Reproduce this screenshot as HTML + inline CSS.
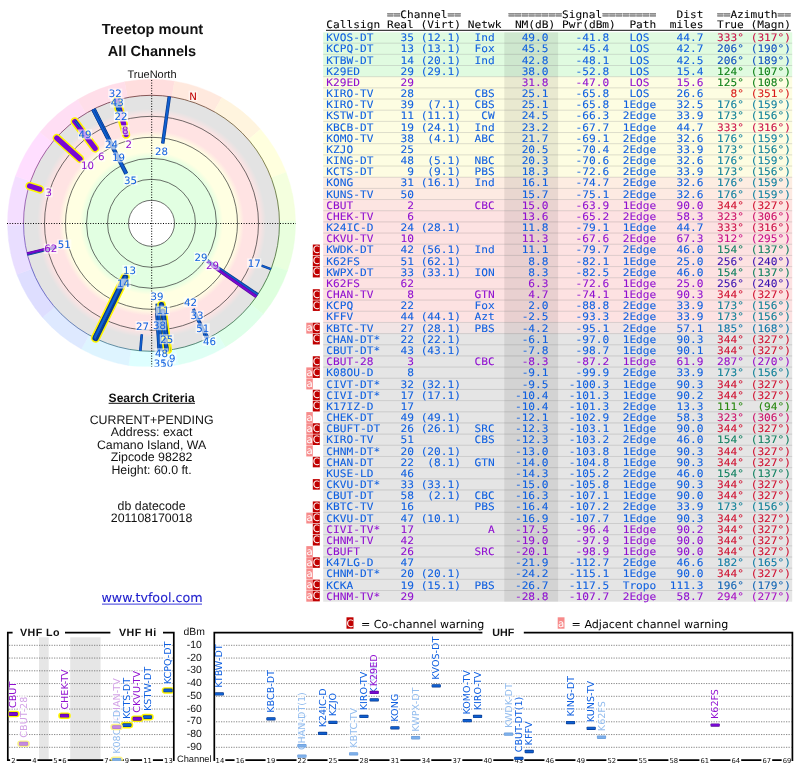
<!DOCTYPE html>
<html lang="en"><head><meta charset="utf-8"><title>TV Fool - Treetop mount - All Channels</title>
<style>
html,body{margin:0;padding:0;background:#fff}
body{width:800px;height:768px;overflow:hidden;position:relative}
svg{position:absolute;left:0;top:0;display:block;will-change:transform}
text{white-space:pre}
.m{font-family:"DejaVu Sans Mono","Liberation Mono",monospace;font-size:11.18px;stroke-width:.07px}
.r{font-family:"DejaVu Sans",Verdana,"Liberation Sans",sans-serif;font-size:9.6px}
.q{fill:#808080;stroke:#808080;stroke-width:.5px}
.e{text-anchor:end}
.s{font-family:"Liberation Sans",Arial,Helvetica,sans-serif;fill:#111}
.b{font-weight:bold}
.d{font-family:"DejaVu Sans",Verdana,"Liberation Sans",sans-serif}
.w{font-family:"DejaVu Sans",Verdana,"Liberation Sans",sans-serif;font-size:10.2px;fill:#fff;text-anchor:middle}
</style></head><body>
<svg width="800" height="768" viewBox="0 0 800 768" text-rendering="geometricPrecision">
<defs>
<radialGradient id="bands" gradientUnits="userSpaceOnUse" cx="151.5" cy="223.3" r="128"><stop offset="0.0000" stop-color="#e2ffe2"/><stop offset="0.5078" stop-color="#e2ffe2"/><stop offset="0.5586" stop-color="#ffffe2"/><stop offset="0.6719" stop-color="#ffffe2"/><stop offset="0.7227" stop-color="#ffe3e3"/><stop offset="0.8359" stop-color="#ffe3e3"/><stop offset="0.8945" stop-color="#e3e3e3"/><stop offset="1.0000" stop-color="#e3e3e3"/></radialGradient>
<clipPath id="rclip"><rect x="0" y="70" width="300" height="296.6"/></clipPath>
<clipPath id="vclip"><rect x="8.6" y="632.55" width="164.4" height="128.3"/></clipPath>
<clipPath id="uclip"><rect x="215.1" y="632.55" width="576.5" height="128.3"/></clipPath>
</defs>
<g id="info" text-anchor="middle">
<text x="152.5" y="34.2" class="s b" font-size="14.6">Treetop mount</text>
<text x="152" y="56.2" class="s b" font-size="14.6">All Channels</text>
<text x="152" y="78" class="s" font-size="11">TrueNorth</text>
<text x="151.6" y="401.6" class="s b" font-size="12.1">Search Criteria</text>
<rect x="108.6" y="402.8" width="86.4" height="1" fill="#111"/>
<text x="151.6" y="423.7" class="s" font-size="12.35">CURRENT+PENDING</text>
<text x="151.6" y="436.3" class="s" font-size="12.35">Address: exact</text>
<text x="151.6" y="448.9" class="s" font-size="12.35">Camano Island, WA</text>
<text x="151.6" y="461.3" class="s" font-size="12.35">Zipcode 98282</text>
<text x="151.6" y="473.7" class="s" font-size="12.35">Height: 60.0 ft.</text>
<text x="151.6" y="509.6" class="s" font-size="12.35">db datecode</text>
<text x="151.6" y="522.3" class="s" font-size="12.35">201108170018</text>
<text x="152" y="602" class="d" font-size="12.7" fill="#1c1ccc" stroke="#1c1ccc" stroke-width="0.1">www.tvfool.com</text>
<rect x="102" y="603.6" width="100" height="1" fill="#3a3add"/>
</g>
<g id="radar" clip-path="url(#rclip)">
<path d="M151.5,223.3L124.52,81.85A144,144 0 0 1 174.52,81.15Z" fill="#ffdede" stroke="#ffdede" stroke-width="0.4"/>
<path d="M151.5,223.3L174.52,81.15A144,144 0 0 1 221.75,97.60Z" fill="#ffe9de" stroke="#ffe9de" stroke-width="0.4"/>
<path d="M151.5,223.3L221.75,97.60A144,144 0 0 1 260.51,129.21Z" fill="#fff4de" stroke="#fff4de" stroke-width="0.4"/>
<path d="M151.5,223.3L260.51,129.21A144,144 0 0 1 286.11,172.16Z" fill="#ffffde" stroke="#ffffde" stroke-width="0.4"/>
<path d="M151.5,223.3L286.11,172.16A144,144 0 0 1 295.49,221.29Z" fill="#f4ffde" stroke="#f4ffde" stroke-width="0.4"/>
<path d="M151.5,223.3L295.49,221.29A144,144 0 0 1 287.49,270.66Z" fill="#e9ffde" stroke="#e9ffde" stroke-width="0.4"/>
<path d="M151.5,223.3L287.49,270.66A144,144 0 0 1 263.09,314.31Z" fill="#deffde" stroke="#deffde" stroke-width="0.4"/>
<path d="M151.5,223.3L263.09,314.31A144,144 0 0 1 225.23,346.99Z" fill="#deffe9" stroke="#deffe9" stroke-width="0.4"/>
<path d="M151.5,223.3L225.23,346.99A144,144 0 0 1 178.48,364.75Z" fill="#defff4" stroke="#defff4" stroke-width="0.4"/>
<path d="M151.5,223.3L178.48,364.75A144,144 0 0 1 128.48,365.45Z" fill="#deffff" stroke="#deffff" stroke-width="0.4"/>
<path d="M151.5,223.3L128.48,365.45A144,144 0 0 1 81.25,349.00Z" fill="#def4ff" stroke="#def4ff" stroke-width="0.4"/>
<path d="M151.5,223.3L81.25,349.00A144,144 0 0 1 42.49,317.39Z" fill="#dee9ff" stroke="#dee9ff" stroke-width="0.4"/>
<path d="M151.5,223.3L42.49,317.39A144,144 0 0 1 16.89,274.44Z" fill="#dedeff" stroke="#dedeff" stroke-width="0.4"/>
<path d="M151.5,223.3L16.89,274.44A144,144 0 0 1 7.51,225.31Z" fill="#e9deff" stroke="#e9deff" stroke-width="0.4"/>
<path d="M151.5,223.3L7.51,225.31A144,144 0 0 1 15.51,175.94Z" fill="#f4deff" stroke="#f4deff" stroke-width="0.4"/>
<path d="M151.5,223.3L15.51,175.94A144,144 0 0 1 39.91,132.29Z" fill="#ffdeff" stroke="#ffdeff" stroke-width="0.4"/>
<path d="M151.5,223.3L39.91,132.29A144,144 0 0 1 77.77,99.61Z" fill="#ffdef4" stroke="#ffdef4" stroke-width="0.4"/>
<path d="M151.5,223.3L77.77,99.61A144,144 0 0 1 124.52,81.85Z" fill="#ffdee9" stroke="#ffdee9" stroke-width="0.4"/>
<circle cx="151.5" cy="223.3" r="128" fill="url(#bands)"/>
<circle cx="151.5" cy="223.3" r="23" fill="#fff"/>
<circle cx="151.5" cy="223.3" r="23" fill="none" stroke="#303030" stroke-width="0.7"/>
<circle cx="151.5" cy="223.3" r="44" fill="none" stroke="#303030" stroke-width="0.7"/>
<circle cx="151.5" cy="223.3" r="65" fill="none" stroke="#303030" stroke-width="0.7"/>
<circle cx="151.5" cy="223.3" r="86" fill="none" stroke="#303030" stroke-width="0.7"/>
<circle cx="151.5" cy="223.3" r="107" fill="none" stroke="#303030" stroke-width="0.7"/>
<path d="M129.27,97.24A128,128 0 0 1 173.73,97.24" fill="none" stroke="#612727" stroke-width="0.75"/>
<path d="M173.73,97.24A128,128 0 0 1 215.50,112.45" fill="none" stroke="#613a27" stroke-width="0.75"/>
<path d="M215.50,112.45A128,128 0 0 1 249.55,141.02" fill="none" stroke="#614e27" stroke-width="0.75"/>
<path d="M249.55,141.02A128,128 0 0 1 271.78,179.52" fill="none" stroke="#616127" stroke-width="0.75"/>
<path d="M271.78,179.52A128,128 0 0 1 279.50,223.30" fill="none" stroke="#4e6127" stroke-width="0.75"/>
<path d="M279.50,223.30A128,128 0 0 1 271.78,267.08" fill="none" stroke="#3a6127" stroke-width="0.75"/>
<path d="M271.78,267.08A128,128 0 0 1 249.55,305.58" fill="none" stroke="#276127" stroke-width="0.75"/>
<path d="M249.55,305.58A128,128 0 0 1 215.50,334.15" fill="none" stroke="#27613a" stroke-width="0.75"/>
<path d="M215.50,334.15A128,128 0 0 1 173.73,349.36" fill="none" stroke="#27614e" stroke-width="0.75"/>
<path d="M173.73,349.36A128,128 0 0 1 129.27,349.36" fill="none" stroke="#2c6e6e" stroke-width="0.75"/>
<path d="M129.27,349.36A128,128 0 0 1 87.50,334.15" fill="none" stroke="#366c87" stroke-width="0.75"/>
<path d="M87.50,334.15A128,128 0 0 1 53.45,305.58" fill="none" stroke="#4060a1" stroke-width="0.75"/>
<path d="M53.45,305.58A128,128 0 0 1 31.22,267.08" fill="none" stroke="#4a4aba" stroke-width="0.75"/>
<path d="M31.22,267.08A128,128 0 0 1 23.50,223.30" fill="none" stroke="#704aba" stroke-width="0.75"/>
<path d="M23.50,223.30A128,128 0 0 1 31.22,179.52" fill="none" stroke="#8140a1" stroke-width="0.75"/>
<path d="M31.22,179.52A128,128 0 0 1 53.45,141.02" fill="none" stroke="#873687" stroke-width="0.75"/>
<path d="M53.45,141.02A128,128 0 0 1 87.50,112.45" fill="none" stroke="#6e2c58" stroke-width="0.75"/>
<path d="M87.50,112.45A128,128 0 0 1 129.27,97.24" fill="none" stroke="#61273a" stroke-width="0.75"/>
<path d="M7,223.5H296M151.7,80V367" stroke="#000" stroke-width="1" stroke-dasharray="1 1.6" fill="none"/>
<path d="M126.28,173.80L93.39,109.25" stroke="#0b3a8c" stroke-width="4.22"/>
<path d="M126.28,173.80L93.39,109.25" stroke="#0f5fd0" stroke-width="2.53"/>
<path d="M125.19,277.25L95.52,338.08" stroke="#fff600" stroke-width="9.32" stroke-linecap="round"/>
<path d="M125.19,277.25L95.52,338.08" stroke="#0b3a8c" stroke-width="6.12" stroke-linecap="round"/>
<path d="M125.19,277.25L95.52,338.08" stroke="#0f5fd0" stroke-width="2.55" stroke-linecap="round"/>
<path d="M123.95,278.91L94.69,338.00" stroke="#0b3a8c" stroke-width="4.03"/>
<path d="M123.95,278.91L94.69,338.00" stroke="#0f5fd0" stroke-width="2.42"/>
<path d="M207.13,260.82L257.62,294.88" stroke="#0b3a8c" stroke-width="3.89"/>
<path d="M207.13,260.82L257.62,294.88" stroke="#0f5fd0" stroke-width="2.33"/>
<path d="M211.80,265.52L256.35,296.72" stroke="#5a0d96" stroke-width="3.30"/>
<path d="M211.80,265.52L256.35,296.72" stroke="#7808d4" stroke-width="2.05"/>
<path d="M162.72,143.44L169.31,96.55" stroke="#0b3a8c" stroke-width="3.50"/>
<path d="M162.72,143.44L169.31,96.55" stroke="#0f5fd0" stroke-width="2.10"/>
<path d="M157.13,303.75L160.43,350.99" stroke="#0b3a8c" stroke-width="3.50"/>
<path d="M157.13,303.75L160.43,350.99" stroke="#0f5fd0" stroke-width="2.10"/>
<path d="M161.50,304.76L167.06,350.05" stroke="#fff600" stroke-width="8.69" stroke-linecap="round"/>
<path d="M161.50,304.76L167.06,350.05" stroke="#0b3a8c" stroke-width="5.48" stroke-linecap="round"/>
<path d="M161.50,304.76L167.06,350.05" stroke="#0f5fd0" stroke-width="2.16" stroke-linecap="round"/>
<path d="M114.43,149.44L94.09,108.90" stroke="#0b3a8c" stroke-width="3.45"/>
<path d="M114.43,149.44L94.09,108.90" stroke="#0f5fd0" stroke-width="2.07"/>
<path d="M156.86,307.34L159.65,351.04" stroke="#0b3a8c" stroke-width="3.40"/>
<path d="M156.86,307.34L159.65,351.04" stroke="#0f5fd0" stroke-width="2.04"/>
<path d="M161.40,308.20L166.32,350.44" stroke="#0b3a8c" stroke-width="3.37"/>
<path d="M161.40,308.20L166.32,350.44" stroke="#0f5fd0" stroke-width="2.02"/>
<path d="M158.00,308.74L161.21,350.93" stroke="#0b3a8c" stroke-width="3.36"/>
<path d="M158.00,308.74L161.21,350.93" stroke="#0f5fd0" stroke-width="2.02"/>
<path d="M162.83,311.16L167.84,349.95" stroke="#fff600" stroke-width="8.50" stroke-linecap="round"/>
<path d="M162.83,311.16L167.84,349.95" stroke="#0b3a8c" stroke-width="5.30" stroke-linecap="round"/>
<path d="M162.83,311.16L167.84,349.95" stroke="#0f5fd0" stroke-width="2.05" stroke-linecap="round"/>
<path d="M156.84,313.24L159.09,351.07" stroke="#0b3a8c" stroke-width="3.23"/>
<path d="M156.84,313.24L159.09,351.07" stroke="#0f5fd0" stroke-width="1.94"/>
<path d="M158.76,313.52L161.77,350.89" stroke="#0b3a8c" stroke-width="3.22"/>
<path d="M158.76,313.52L161.77,350.89" stroke="#0f5fd0" stroke-width="1.93"/>
<path d="M126.07,134.62L116.36,100.74" stroke="#fff600" stroke-width="8.4" stroke-linecap="round"/>
<path d="M126.07,134.62L116.36,100.74" stroke="#7808d4" stroke-width="5.2" stroke-linecap="round"/>
<path d="M95.10,148.45L74.77,121.47" stroke="#fff600" stroke-width="8.4" stroke-linecap="round"/>
<path d="M95.10,148.45L74.77,121.47" stroke="#7808d4" stroke-width="5.2" stroke-linecap="round"/>
<path d="M108.03,139.27L92.69,109.61" stroke="#0b3a8c" stroke-width="3.10"/>
<path d="M108.03,139.27L92.69,109.61" stroke="#0f5fd0" stroke-width="1.86"/>
<path d="M80.06,158.97L56.75,137.99" stroke="#fff600" stroke-width="8.4" stroke-linecap="round"/>
<path d="M80.06,158.97L56.75,137.99" stroke="#7808d4" stroke-width="5.2" stroke-linecap="round"/>
<path d="M193.30,309.00L207.61,338.35" stroke="#0b3a8c" stroke-width="3.08"/>
<path d="M193.30,309.00L207.61,338.35" stroke="#0f5fd0" stroke-width="1.85"/>
<path d="M56.64,246.95L27.30,254.27" stroke="#0b3a8c" stroke-width="3.01"/>
<path d="M56.64,246.95L27.30,254.27" stroke="#0f5fd0" stroke-width="1.81"/>
<path d="M194.04,311.90L206.91,338.69" stroke="#0b3a8c" stroke-width="3.00"/>
<path d="M194.04,311.90L206.91,338.69" stroke="#0f5fd0" stroke-width="1.80"/>
<path d="M53.95,246.99L27.12,253.51" stroke="#5a0d96" stroke-width="2.54"/>
<path d="M53.95,246.99L27.12,253.51" stroke="#7808d4" stroke-width="1.57"/>
<path d="M123.70,124.06L117.11,100.53" stroke="#fff600" stroke-width="8.4" stroke-linecap="round"/>
<path d="M123.70,124.06L117.11,100.53" stroke="#7808d4" stroke-width="5.2" stroke-linecap="round"/>
<path d="M163.19,327.55L165.77,350.50" stroke="#0b3a8c" stroke-width="2.81"/>
<path d="M163.19,327.55L165.77,350.50" stroke="#0f5fd0" stroke-width="1.69"/>
<path d="M166.00,331.96L168.43,350.18" stroke="#0b3a8c" stroke-width="2.67"/>
<path d="M166.00,331.96L168.43,350.18" stroke="#0f5fd0" stroke-width="1.60"/>
<path d="M141.79,334.29L140.34,350.81" stroke="#0b3a8c" stroke-width="2.62"/>
<path d="M141.79,334.29L140.34,350.81" stroke="#0f5fd0" stroke-width="1.57"/>
<path d="M119.58,114.48L115.47,100.48" stroke="#0b3a8c" stroke-width="2.57"/>
<path d="M119.58,114.48L115.47,100.48" stroke="#0f5fd0" stroke-width="1.54"/>
<path d="M120.91,112.25L117.51,99.90" stroke="#0b3a8c" stroke-width="2.52"/>
<path d="M120.91,112.25L117.51,99.90" stroke="#0f5fd0" stroke-width="1.51"/>
<path d="M39.88,189.18L29.57,186.02" stroke="#fff600" stroke-width="8.4" stroke-linecap="round"/>
<path d="M39.88,189.18L29.57,186.02" stroke="#7808d4" stroke-width="5.2" stroke-linecap="round"/>
<path d="M165.40,339.83L166.62,350.10" stroke="#fff600" stroke-width="7.68" stroke-linecap="round"/>
<path d="M165.40,339.83L166.62,350.10" stroke="#0b3a8c" stroke-width="4.48" stroke-linecap="round"/>
<path d="M165.40,339.83L166.62,350.10" stroke="#0f5fd0" stroke-width="1.54" stroke-linecap="round"/>
<path d="M118.08,111.20L114.93,100.63" stroke="#0b3a8c" stroke-width="2.46"/>
<path d="M118.08,111.20L114.93,100.63" stroke="#0f5fd0" stroke-width="1.48"/>
<path d="M119.39,109.84L116.65,100.14" stroke="#0b3a8c" stroke-width="2.44"/>
<path d="M119.39,109.84L116.65,100.14" stroke="#0f5fd0" stroke-width="1.46"/>
<path d="M261.59,265.56L271.00,269.17" stroke="#0b3a8c" stroke-width="2.44"/>
<path d="M261.59,265.56L271.00,269.17" stroke="#0f5fd0" stroke-width="1.46"/>
<path d="M80.05,127.26L75.09,120.61" stroke="#0b3a8c" stroke-width="2.39"/>
<path d="M80.05,127.26L75.09,120.61" stroke="#0f5fd0" stroke-width="1.43"/>
<path d="M118.04,108.15L115.79,100.38" stroke="#0b3a8c" stroke-width="2.38"/>
<path d="M118.04,108.15L115.79,100.38" stroke="#0f5fd0" stroke-width="1.43"/>
<path d="M204.72,330.76L208.31,338.00" stroke="#0b3a8c" stroke-width="2.38"/>
<path d="M204.72,330.76L208.31,338.00" stroke="#0f5fd0" stroke-width="1.43"/>
<path d="M119.16,107.07L117.19,99.99" stroke="#0b3a8c" stroke-width="2.36"/>
<path d="M119.16,107.07L117.19,99.99" stroke="#0f5fd0" stroke-width="1.42"/>
<path d="M117.04,106.58L115.25,100.54" stroke="#0b3a8c" stroke-width="2.33"/>
<path d="M117.04,106.58L115.25,100.54" stroke="#0f5fd0" stroke-width="1.40"/>
<path d="M203.84,333.52L206.40,338.93" stroke="#0b3a8c" stroke-width="2.32"/>
<path d="M203.84,333.52L206.40,338.93" stroke="#0f5fd0" stroke-width="1.39"/>
<path d="M117.87,105.25L116.43,100.20" stroke="#0b3a8c" stroke-width="2.30"/>
<path d="M117.87,105.25L116.43,100.20" stroke="#0f5fd0" stroke-width="1.38"/>
<path d="M117.08,104.05L116.00,100.32" stroke="#0b3a8c" stroke-width="2.30"/>
<path d="M117.08,104.05L116.00,100.32" stroke="#0f5fd0" stroke-width="1.38"/>
<path d="M167.07,346.54L167.54,350.29" stroke="#0b3a8c" stroke-width="2.30"/>
<path d="M167.07,346.54L167.54,350.29" stroke="#0f5fd0" stroke-width="1.38"/>
<path d="M117.74,103.21L116.86,100.08" stroke="#0b3a8c" stroke-width="2.30"/>
<path d="M117.74,103.21L116.86,100.08" stroke="#0f5fd0" stroke-width="1.38"/>
<path d="M116.31,102.96L115.57,100.44" stroke="#5a0d96" stroke-width="1.90"/>
<path d="M116.31,102.96L115.57,100.44" stroke="#7808d4" stroke-width="1.18"/>
<path d="M117.57,100.97L117.29,99.96" stroke="#5a0d96" stroke-width="1.90"/>
<path d="M117.57,100.97L117.29,99.96" stroke="#7808d4" stroke-width="1.18"/>
<rect x="108.15" y="88.60" width="14.10" height="10" fill="#fff" fill-opacity="0.62"/>
<text x="115.20" y="97.30" class="d" font-size="10.2" fill="#1060e0" text-anchor="middle">32</text>
<rect x="110.25" y="97.60" width="14.10" height="10" fill="#fff" fill-opacity="0.62"/>
<text x="117.30" y="106.30" class="d" font-size="10.2" fill="#1060e0" text-anchor="middle">43</text>
<rect x="113.85" y="111.50" width="14.10" height="10" fill="#fff" fill-opacity="0.84"/>
<text x="120.90" y="120.20" class="d" font-size="10.2" fill="#1060e0" text-anchor="middle">22</text>
<rect x="121.30" y="125.10" width="7.80" height="10" fill="#fff" fill-opacity="0.62"/>
<text x="125.20" y="133.80" class="d" font-size="10.2" fill="#9010d0" text-anchor="middle">8</text>
<rect x="124.90" y="138.80" width="7.80" height="10" fill="#fff" fill-opacity="0.62"/>
<text x="128.80" y="147.50" class="d" font-size="10.2" fill="#9010d0" text-anchor="middle">2</text>
<rect x="78.05" y="129.40" width="14.10" height="10" fill="#fff" fill-opacity="0.62"/>
<text x="85.10" y="138.10" class="d" font-size="10.2" fill="#1060e0" text-anchor="middle">49</text>
<rect x="97.40" y="151.60" width="7.80" height="10" fill="#fff" fill-opacity="0.62"/>
<text x="101.30" y="160.30" class="d" font-size="10.2" fill="#9010d0" text-anchor="middle">6</text>
<rect x="80.45" y="160.20" width="14.10" height="10" fill="#fff" fill-opacity="0.62"/>
<text x="87.50" y="168.90" class="d" font-size="10.2" fill="#9010d0" text-anchor="middle">10</text>
<rect x="104.55" y="139.50" width="14.10" height="10" fill="#fff" fill-opacity="0.62"/>
<text x="111.60" y="148.20" class="d" font-size="10.2" fill="#1060e0" text-anchor="middle">24</text>
<rect x="111.45" y="152.40" width="14.10" height="10" fill="#fff" fill-opacity="0.62"/>
<text x="118.50" y="161.10" class="d" font-size="10.2" fill="#1060e0" text-anchor="middle">19</text>
<rect x="123.45" y="175.30" width="14.10" height="10" fill="#fff" fill-opacity="0.62"/>
<text x="130.50" y="184.00" class="d" font-size="10.2" fill="#1060e0" text-anchor="middle">35</text>
<rect x="44.80" y="187.30" width="7.80" height="10" fill="#fff" fill-opacity="0.62"/>
<text x="48.70" y="196.00" class="d" font-size="10.2" fill="#9010d0" text-anchor="middle">3</text>
<rect x="43.75" y="243.70" width="14.10" height="10" fill="#fff" fill-opacity="0.62"/>
<text x="50.80" y="252.40" class="d" font-size="10.2" fill="#9010d0" text-anchor="middle">62</text>
<rect x="57.25" y="239.40" width="14.10" height="10" fill="#fff" fill-opacity="0.62"/>
<text x="64.30" y="248.10" class="d" font-size="10.2" fill="#1060e0" text-anchor="middle">51</text>
<rect x="154.45" y="146.30" width="14.10" height="10" fill="#fff" fill-opacity="0.62"/>
<text x="161.50" y="155.00" class="d" font-size="10.2" fill="#1060e0" text-anchor="middle">28</text>
<rect x="193.95" y="252.10" width="14.10" height="10" fill="#fff" fill-opacity="0.62"/>
<text x="201.00" y="260.80" class="d" font-size="10.2" fill="#1060e0" text-anchor="middle">29</text>
<rect x="205.45" y="260.40" width="14.10" height="10" fill="#fff" fill-opacity="0.62"/>
<text x="212.50" y="269.10" class="d" font-size="10.2" fill="#9010d0" text-anchor="middle">29</text>
<rect x="247.15" y="258.30" width="14.10" height="10" fill="#fff" fill-opacity="0.62"/>
<text x="254.20" y="267.00" class="d" font-size="10.2" fill="#1060e0" text-anchor="middle">17</text>
<rect x="183.55" y="297.30" width="14.10" height="10" fill="#fff" fill-opacity="0.62"/>
<text x="190.60" y="306.00" class="d" font-size="10.2" fill="#1060e0" text-anchor="middle">42</text>
<rect x="189.85" y="310.40" width="14.10" height="10" fill="#fff" fill-opacity="0.62"/>
<text x="196.90" y="319.10" class="d" font-size="10.2" fill="#1060e0" text-anchor="middle">33</text>
<rect x="195.65" y="323.30" width="14.10" height="10" fill="#fff" fill-opacity="0.62"/>
<text x="202.70" y="332.00" class="d" font-size="10.2" fill="#1060e0" text-anchor="middle">51</text>
<rect x="202.35" y="335.80" width="14.10" height="10" fill="#fff" fill-opacity="0.62"/>
<text x="209.40" y="344.50" class="d" font-size="10.2" fill="#1060e0" text-anchor="middle">46</text>
<rect x="149.85" y="291.50" width="14.10" height="10" fill="#fff" fill-opacity="0.62"/>
<text x="156.90" y="300.20" class="d" font-size="10.2" fill="#1060e0" text-anchor="middle">39</text>
<rect x="155.85" y="305.60" width="14.10" height="10" fill="#fff" fill-opacity="0.62"/>
<text x="162.90" y="314.30" class="d" font-size="10.2" fill="#1060e0" text-anchor="middle">11</text>
<rect x="152.35" y="320.20" width="14.10" height="10" fill="#fff" fill-opacity="0.62"/>
<text x="159.40" y="328.90" class="d" font-size="10.2" fill="#1060e0" text-anchor="middle">38</text>
<rect x="159.65" y="334.20" width="14.10" height="10" fill="#fff" fill-opacity="0.62"/>
<text x="166.70" y="342.90" class="d" font-size="10.2" fill="#1060e0" text-anchor="middle">25</text>
<rect x="153.25" y="358.20" width="14.10" height="10" fill="#fff" fill-opacity="0.62"/>
<text x="160.30" y="366.90" class="d" font-size="10.2" fill="#1060e0" text-anchor="middle">31</text>
<rect x="159.75" y="358.40" width="14.10" height="10" fill="#fff" fill-opacity="0.62"/>
<text x="166.80" y="367.10" class="d" font-size="10.2" fill="#1060e0" text-anchor="middle">50</text>
<rect x="168.40" y="353.60" width="7.80" height="10" fill="#fff" fill-opacity="0.62"/>
<text x="172.30" y="362.30" class="d" font-size="10.2" fill="#1060e0" text-anchor="middle">9</text>
<rect x="154.45" y="348.30" width="14.10" height="10" fill="#fff" fill-opacity="0.62"/>
<text x="161.50" y="357.00" class="d" font-size="10.2" fill="#1060e0" text-anchor="middle">48</text>
<rect x="122.35" y="265.00" width="14.10" height="10" fill="#fff" fill-opacity="0.62"/>
<text x="129.40" y="273.70" class="d" font-size="10.2" fill="#1060e0" text-anchor="middle">13</text>
<rect x="116.55" y="278.60" width="14.10" height="10" fill="#fff" fill-opacity="0.62"/>
<text x="123.60" y="287.30" class="d" font-size="10.2" fill="#1060e0" text-anchor="middle">14</text>
<rect x="135.55" y="321.00" width="14.10" height="10" fill="#fff" fill-opacity="0.62"/>
<text x="142.60" y="329.70" class="d" font-size="10.2" fill="#1060e0" text-anchor="middle">27</text>
<rect x="188.6" y="90.6" width="9" height="10.4" fill="#fff" fill-opacity="0.45"/>
<text x="193.1" y="99.6" class="d" font-size="10.2" fill="#c00000" text-anchor="middle">N</text>
</g>
<g id="table-bg">
<rect x="326" y="29.8" width="464.6" height="1" fill="#111"/>
<rect x="323.2" y="32.30" width="469.0" height="10.92" fill="#e0fbe0"/>
<rect x="323.2" y="43.17" width="469.0" height="11.22" fill="#e0fbe0"/>
<rect x="323.2" y="54.34" width="469.0" height="11.22" fill="#e0fbe0"/>
<rect x="323.2" y="65.51" width="469.0" height="11.22" fill="#e0fbe0"/>
<rect x="323.2" y="76.68" width="469.0" height="11.22" fill="#fdfde2"/>
<rect x="323.2" y="87.85" width="469.0" height="11.22" fill="#fdfde2"/>
<rect x="323.2" y="99.02" width="469.0" height="11.22" fill="#fdfde2"/>
<rect x="323.2" y="110.19" width="469.0" height="11.22" fill="#fdfde2"/>
<rect x="323.2" y="121.36" width="469.0" height="11.22" fill="#fdfde2"/>
<rect x="323.2" y="132.53" width="469.0" height="11.22" fill="#fdfde2"/>
<rect x="323.2" y="143.70" width="469.0" height="11.22" fill="#fdfde2"/>
<rect x="323.2" y="154.87" width="469.0" height="11.22" fill="#fdfde2"/>
<rect x="323.2" y="166.04" width="469.0" height="11.22" fill="#fdfce2"/>
<rect x="323.2" y="177.21" width="469.0" height="11.22" fill="#fdede2"/>
<rect x="323.2" y="188.38" width="469.0" height="11.22" fill="#fdeae2"/>
<rect x="323.2" y="199.55" width="469.0" height="11.22" fill="#fde5e2"/>
<rect x="323.2" y="210.72" width="469.0" height="11.22" fill="#fde2e2"/>
<rect x="323.2" y="221.89" width="469.0" height="11.22" fill="#fde2e2"/>
<rect x="323.2" y="233.06" width="469.0" height="11.22" fill="#fde2e2"/>
<rect x="323.2" y="244.23" width="469.0" height="11.22" fill="#fde2e2"/>
<rect x="323.2" y="255.40" width="469.0" height="11.22" fill="#fde2e2"/>
<rect x="323.2" y="266.57" width="469.0" height="11.22" fill="#fde2e2"/>
<rect x="323.2" y="277.74" width="469.0" height="11.22" fill="#fde2e2"/>
<rect x="323.2" y="288.91" width="469.0" height="11.22" fill="#fde2e2"/>
<rect x="323.2" y="300.08" width="469.0" height="11.22" fill="#fde2e2"/>
<rect x="323.2" y="311.25" width="469.0" height="11.22" fill="#fde2e2"/>
<rect x="323.2" y="322.42" width="469.0" height="11.22" fill="#f1e4e4"/>
<rect x="323.2" y="333.59" width="469.0" height="11.22" fill="#e5e5e5"/>
<rect x="323.2" y="344.76" width="469.0" height="11.22" fill="#e5e5e5"/>
<rect x="323.2" y="355.93" width="469.0" height="11.22" fill="#e5e5e5"/>
<rect x="323.2" y="367.10" width="469.0" height="11.22" fill="#e5e5e5"/>
<rect x="323.2" y="378.27" width="469.0" height="11.22" fill="#e5e5e5"/>
<rect x="323.2" y="389.44" width="469.0" height="11.22" fill="#e5e5e5"/>
<rect x="323.2" y="400.61" width="469.0" height="11.22" fill="#e5e5e5"/>
<rect x="323.2" y="411.78" width="469.0" height="11.22" fill="#e5e5e5"/>
<rect x="323.2" y="422.95" width="469.0" height="11.22" fill="#e5e5e5"/>
<rect x="323.2" y="434.12" width="469.0" height="11.22" fill="#e5e5e5"/>
<rect x="323.2" y="445.29" width="469.0" height="11.22" fill="#e5e5e5"/>
<rect x="323.2" y="456.46" width="469.0" height="11.22" fill="#e5e5e5"/>
<rect x="323.2" y="467.63" width="469.0" height="11.22" fill="#e5e5e5"/>
<rect x="323.2" y="478.80" width="469.0" height="11.22" fill="#e5e5e5"/>
<rect x="323.2" y="489.97" width="469.0" height="11.22" fill="#e5e5e5"/>
<rect x="323.2" y="501.14" width="469.0" height="11.22" fill="#e5e5e5"/>
<rect x="323.2" y="512.31" width="469.0" height="11.22" fill="#e5e5e5"/>
<rect x="323.2" y="523.48" width="469.0" height="11.22" fill="#e5e5e5"/>
<rect x="323.2" y="534.65" width="469.0" height="11.22" fill="#e5e5e5"/>
<rect x="323.2" y="545.82" width="469.0" height="11.22" fill="#e5e5e5"/>
<rect x="323.2" y="556.99" width="469.0" height="11.22" fill="#e5e5e5"/>
<rect x="323.2" y="568.16" width="469.0" height="11.22" fill="#e5e5e5"/>
<rect x="323.2" y="579.33" width="469.0" height="11.22" fill="#e5e5e5"/>
<rect x="323.2" y="590.50" width="469.0" height="11.22" fill="#e5e5e5"/>
<rect x="504.3" y="32.3" width="53.8" height="569.37" fill="#000" fill-opacity="0.08"/>
<rect x="323.2" y="42.67" width="469.0" height="1" fill="#000" fill-opacity="0.13"/>
<rect x="323.2" y="53.84" width="469.0" height="1" fill="#000" fill-opacity="0.13"/>
<rect x="323.2" y="65.01" width="469.0" height="1" fill="#000" fill-opacity="0.13"/>
<rect x="323.2" y="76.18" width="469.0" height="1" fill="#000" fill-opacity="0.13"/>
<rect x="323.2" y="87.35" width="469.0" height="1" fill="#000" fill-opacity="0.13"/>
<rect x="323.2" y="98.52" width="469.0" height="1" fill="#000" fill-opacity="0.13"/>
<rect x="323.2" y="109.69" width="469.0" height="1" fill="#000" fill-opacity="0.13"/>
<rect x="323.2" y="120.86" width="469.0" height="1" fill="#000" fill-opacity="0.13"/>
<rect x="323.2" y="132.03" width="469.0" height="1" fill="#000" fill-opacity="0.13"/>
<rect x="323.2" y="143.20" width="469.0" height="1" fill="#000" fill-opacity="0.13"/>
<rect x="323.2" y="154.37" width="469.0" height="1" fill="#000" fill-opacity="0.13"/>
<rect x="323.2" y="165.54" width="469.0" height="1" fill="#000" fill-opacity="0.13"/>
<rect x="323.2" y="176.71" width="469.0" height="1" fill="#000" fill-opacity="0.13"/>
<rect x="323.2" y="187.88" width="469.0" height="1" fill="#000" fill-opacity="0.13"/>
<rect x="323.2" y="199.05" width="469.0" height="1" fill="#000" fill-opacity="0.13"/>
<rect x="323.2" y="210.22" width="469.0" height="1" fill="#000" fill-opacity="0.13"/>
<rect x="323.2" y="221.39" width="469.0" height="1" fill="#000" fill-opacity="0.13"/>
<rect x="323.2" y="232.56" width="469.0" height="1" fill="#000" fill-opacity="0.13"/>
<rect x="323.2" y="243.73" width="469.0" height="1" fill="#000" fill-opacity="0.13"/>
<rect x="323.2" y="254.90" width="469.0" height="1" fill="#000" fill-opacity="0.13"/>
<rect x="323.2" y="266.07" width="469.0" height="1" fill="#000" fill-opacity="0.13"/>
<rect x="323.2" y="277.24" width="469.0" height="1" fill="#000" fill-opacity="0.13"/>
<rect x="323.2" y="288.41" width="469.0" height="1" fill="#000" fill-opacity="0.13"/>
<rect x="323.2" y="299.58" width="469.0" height="1" fill="#000" fill-opacity="0.13"/>
<rect x="323.2" y="310.75" width="469.0" height="1" fill="#000" fill-opacity="0.13"/>
<rect x="323.2" y="321.92" width="469.0" height="1" fill="#000" fill-opacity="0.13"/>
<rect x="323.2" y="333.09" width="469.0" height="1" fill="#000" fill-opacity="0.13"/>
<rect x="323.2" y="344.26" width="469.0" height="1" fill="#000" fill-opacity="0.13"/>
<rect x="323.2" y="355.43" width="469.0" height="1" fill="#000" fill-opacity="0.13"/>
<rect x="323.2" y="366.60" width="469.0" height="1" fill="#000" fill-opacity="0.13"/>
<rect x="323.2" y="377.77" width="469.0" height="1" fill="#000" fill-opacity="0.13"/>
<rect x="323.2" y="388.94" width="469.0" height="1" fill="#000" fill-opacity="0.13"/>
<rect x="323.2" y="400.11" width="469.0" height="1" fill="#000" fill-opacity="0.13"/>
<rect x="323.2" y="411.28" width="469.0" height="1" fill="#000" fill-opacity="0.13"/>
<rect x="323.2" y="422.45" width="469.0" height="1" fill="#000" fill-opacity="0.13"/>
<rect x="323.2" y="433.62" width="469.0" height="1" fill="#000" fill-opacity="0.13"/>
<rect x="323.2" y="444.79" width="469.0" height="1" fill="#000" fill-opacity="0.13"/>
<rect x="323.2" y="455.96" width="469.0" height="1" fill="#000" fill-opacity="0.13"/>
<rect x="323.2" y="467.13" width="469.0" height="1" fill="#000" fill-opacity="0.13"/>
<rect x="323.2" y="478.30" width="469.0" height="1" fill="#000" fill-opacity="0.13"/>
<rect x="323.2" y="489.47" width="469.0" height="1" fill="#000" fill-opacity="0.13"/>
<rect x="323.2" y="500.64" width="469.0" height="1" fill="#000" fill-opacity="0.13"/>
<rect x="323.2" y="511.81" width="469.0" height="1" fill="#000" fill-opacity="0.13"/>
<rect x="323.2" y="522.98" width="469.0" height="1" fill="#000" fill-opacity="0.13"/>
<rect x="323.2" y="534.15" width="469.0" height="1" fill="#000" fill-opacity="0.13"/>
<rect x="323.2" y="545.32" width="469.0" height="1" fill="#000" fill-opacity="0.13"/>
<rect x="323.2" y="556.49" width="469.0" height="1" fill="#000" fill-opacity="0.13"/>
<rect x="323.2" y="567.66" width="469.0" height="1" fill="#000" fill-opacity="0.13"/>
<rect x="323.2" y="578.83" width="469.0" height="1" fill="#000" fill-opacity="0.13"/>
<rect x="323.2" y="590.00" width="469.0" height="1" fill="#000" fill-opacity="0.13"/>
<rect x="312.8" y="244.53" width="7" height="10.57" fill="#c00000"/>
<text x="316.3" y="252.98" class="w">C</text>
<rect x="312.8" y="255.70" width="7" height="10.57" fill="#c00000"/>
<text x="316.3" y="264.15" class="w">C</text>
<rect x="312.8" y="266.87" width="7" height="10.57" fill="#c00000"/>
<text x="316.3" y="275.32" class="w">C</text>
<rect x="312.8" y="289.21" width="7" height="10.57" fill="#c00000"/>
<text x="316.3" y="297.66" class="w">C</text>
<rect x="312.8" y="300.38" width="7" height="10.57" fill="#c00000"/>
<text x="316.3" y="308.83" class="w">C</text>
<rect x="306.3" y="322.72" width="6.5" height="10.87" fill="#f78a8a"/>
<text x="309.55" y="331.17" class="w">a</text>
<rect x="312.8" y="322.72" width="7" height="10.57" fill="#c00000"/>
<text x="316.3" y="331.17" class="w">C</text>
<rect x="312.8" y="333.89" width="7" height="10.57" fill="#c00000"/>
<text x="316.3" y="342.34" class="w">C</text>
<rect x="312.8" y="356.23" width="7" height="10.57" fill="#c00000"/>
<text x="316.3" y="364.68" class="w">C</text>
<rect x="306.3" y="367.40" width="6.5" height="10.87" fill="#f78a8a"/>
<text x="309.55" y="375.85" class="w">a</text>
<rect x="312.8" y="367.40" width="7" height="10.57" fill="#c00000"/>
<text x="316.3" y="375.85" class="w">C</text>
<rect x="306.3" y="378.57" width="6.5" height="10.87" fill="#f78a8a"/>
<text x="309.55" y="387.02" class="w">a</text>
<rect x="312.8" y="389.74" width="7" height="10.57" fill="#c00000"/>
<text x="316.3" y="398.19" class="w">C</text>
<rect x="312.8" y="400.91" width="7" height="10.57" fill="#c00000"/>
<text x="316.3" y="409.36" class="w">C</text>
<rect x="306.3" y="412.08" width="6.5" height="10.87" fill="#f78a8a"/>
<text x="309.55" y="420.53" class="w">a</text>
<rect x="306.3" y="423.25" width="6.5" height="10.87" fill="#f78a8a"/>
<text x="309.55" y="431.70" class="w">a</text>
<rect x="312.8" y="423.25" width="7" height="10.57" fill="#c00000"/>
<text x="316.3" y="431.70" class="w">C</text>
<rect x="306.3" y="434.42" width="6.5" height="10.87" fill="#f78a8a"/>
<text x="309.55" y="442.87" class="w">a</text>
<rect x="312.8" y="434.42" width="7" height="10.57" fill="#c00000"/>
<text x="316.3" y="442.87" class="w">C</text>
<rect x="306.3" y="445.59" width="6.5" height="10.87" fill="#f78a8a"/>
<text x="309.55" y="454.04" class="w">a</text>
<rect x="312.8" y="456.76" width="7" height="10.57" fill="#c00000"/>
<text x="316.3" y="465.21" class="w">C</text>
<rect x="312.8" y="479.10" width="7" height="10.57" fill="#c00000"/>
<text x="316.3" y="487.55" class="w">C</text>
<rect x="312.8" y="501.44" width="7" height="10.57" fill="#c00000"/>
<text x="316.3" y="509.89" class="w">C</text>
<rect x="306.3" y="512.61" width="6.5" height="10.87" fill="#f78a8a"/>
<text x="309.55" y="521.06" class="w">a</text>
<rect x="312.8" y="512.61" width="7" height="10.57" fill="#c00000"/>
<text x="316.3" y="521.06" class="w">C</text>
<rect x="312.8" y="523.78" width="7" height="10.57" fill="#c00000"/>
<text x="316.3" y="532.23" class="w">C</text>
<rect x="312.8" y="534.95" width="7" height="10.57" fill="#c00000"/>
<text x="316.3" y="543.40" class="w">C</text>
<rect x="306.3" y="546.12" width="6.5" height="10.87" fill="#f78a8a"/>
<text x="309.55" y="554.57" class="w">a</text>
<rect x="306.3" y="557.29" width="6.5" height="10.87" fill="#f78a8a"/>
<text x="309.55" y="565.74" class="w">a</text>
<rect x="312.8" y="557.29" width="7" height="10.57" fill="#c00000"/>
<text x="316.3" y="565.74" class="w">C</text>
<rect x="306.3" y="568.46" width="6.5" height="10.87" fill="#f78a8a"/>
<text x="309.55" y="576.91" class="w">a</text>
<rect x="306.3" y="579.63" width="6.5" height="10.87" fill="#f78a8a"/>
<text x="309.55" y="588.08" class="w">a</text>
<rect x="312.8" y="579.63" width="7" height="10.57" fill="#c00000"/>
<text x="316.3" y="588.08" class="w">C</text>
<rect x="306.3" y="590.80" width="6.5" height="10.87" fill="#f78a8a"/>
<text x="309.55" y="599.25" class="w">a</text>
<rect x="312.8" y="590.80" width="7" height="10.57" fill="#c00000"/>
<text x="316.3" y="599.25" class="w">C</text>
</g>
<g id="table" transform="scale(1,0.925)" stroke="#000">
<text x="386.92" y="19.46" class="m"><tspan class="q">==</tspan>Channel<tspan class="q">==</tspan></text>
<text x="508.14" y="19.46" class="m"><tspan class="q">========</tspan>Signal<tspan class="q">========</tspan></text>
<text x="676.52" y="19.46" class="m">Dist</text>
<text x="716.93" y="19.46" class="m"><tspan class="q">==</tspan>Azimuth<tspan class="q">==</tspan></text>
<text x="326.30" y="30.81" class="m">Callsign</text>
<text x="386.92" y="30.81" class="m">Real</text>
<text x="420.59" y="30.81" class="m">(Virt)</text>
<text x="467.74" y="30.81" class="m">Netwk</text>
<text x="514.88" y="30.81" class="m">NM(dB)</text>
<text x="562.03" y="30.81" class="m">Pwr(dBm)</text>
<text x="629.38" y="30.81" class="m">Path</text>
<text x="669.79" y="30.81" class="m">miles</text>
<text x="716.93" y="30.81" class="m">True</text>
<text x="750.61" y="30.81" class="m">(Magn)</text>
<g fill="#1060e0" stroke="#1060e0">
<text x="326.30" y="44.59" class="m">KVOS-DT</text>
<text x="413.86" y="44.59" class="m e">35</text>
<text x="461.00" y="44.59" class="m e">(12.1)</text>
<text x="494.68" y="44.59" class="m e">Ind</text>
<text x="548.56" y="44.59" class="m e">49.0</text>
<text x="609.17" y="44.59" class="m e">-41.8</text>
<text x="649.58" y="44.59" class="m e">LOS</text>
<text x="703.46" y="44.59" class="m e">44.7</text>
</g>
<text x="743.87" y="44.59" class="m e" fill="#cc1048" stroke="#cc1048">333°</text>
<text x="791.02" y="44.59" class="m e" fill="#cc1048" stroke="#cc1048">(317°)</text>
<g fill="#1060e0" stroke="#1060e0">
<text x="326.30" y="56.67" class="m">KCPQ-DT</text>
<text x="413.86" y="56.67" class="m e">13</text>
<text x="461.00" y="56.67" class="m e">(13.1)</text>
<text x="494.68" y="56.67" class="m e">Fox</text>
<text x="548.56" y="56.67" class="m e">45.5</text>
<text x="609.17" y="56.67" class="m e">-45.4</text>
<text x="649.58" y="56.67" class="m e">LOS</text>
<text x="703.46" y="56.67" class="m e">42.7</text>
</g>
<text x="743.87" y="56.67" class="m e" fill="#1050c0" stroke="#1050c0">206°</text>
<text x="791.02" y="56.67" class="m e" fill="#1050c0" stroke="#1050c0">(190°)</text>
<g fill="#1060e0" stroke="#1060e0">
<text x="326.30" y="68.75" class="m">KTBW-DT</text>
<text x="413.86" y="68.75" class="m e">14</text>
<text x="461.00" y="68.75" class="m e">(20.1)</text>
<text x="494.68" y="68.75" class="m e">Ind</text>
<text x="548.56" y="68.75" class="m e">42.8</text>
<text x="609.17" y="68.75" class="m e">-48.1</text>
<text x="649.58" y="68.75" class="m e">LOS</text>
<text x="703.46" y="68.75" class="m e">42.5</text>
</g>
<text x="743.87" y="68.75" class="m e" fill="#1050c0" stroke="#1050c0">206°</text>
<text x="791.02" y="68.75" class="m e" fill="#1050c0" stroke="#1050c0">(189°)</text>
<g fill="#1060e0" stroke="#1060e0">
<text x="326.30" y="80.82" class="m">K29ED</text>
<text x="413.86" y="80.82" class="m e">29</text>
<text x="461.00" y="80.82" class="m e">(29.1)</text>
<text x="548.56" y="80.82" class="m e">38.0</text>
<text x="609.17" y="80.82" class="m e">-52.8</text>
<text x="649.58" y="80.82" class="m e">LOS</text>
<text x="703.46" y="80.82" class="m e">15.4</text>
</g>
<text x="743.87" y="80.82" class="m e" fill="#108018" stroke="#108018">124°</text>
<text x="791.02" y="80.82" class="m e" fill="#108018" stroke="#108018">(107°)</text>
<g fill="#9010d0" stroke="#9010d0">
<text x="326.30" y="92.90" class="m">K29ED</text>
<text x="413.86" y="92.90" class="m e">29</text>
<text x="548.56" y="92.90" class="m e">31.8</text>
<text x="609.17" y="92.90" class="m e">-47.0</text>
<text x="649.58" y="92.90" class="m e">LOS</text>
<text x="703.46" y="92.90" class="m e">15.6</text>
</g>
<text x="743.87" y="92.90" class="m e" fill="#10801a" stroke="#10801a">125°</text>
<text x="791.02" y="92.90" class="m e" fill="#10801a" stroke="#10801a">(108°)</text>
<g fill="#1060e0" stroke="#1060e0">
<text x="326.30" y="104.97" class="m">KIRO-TV</text>
<text x="413.86" y="104.97" class="m e">28</text>
<text x="494.68" y="104.97" class="m e">CBS</text>
<text x="548.56" y="104.97" class="m e">25.1</text>
<text x="609.17" y="104.97" class="m e">-65.8</text>
<text x="649.58" y="104.97" class="m e">LOS</text>
<text x="703.46" y="104.97" class="m e">26.6</text>
</g>
<text x="743.87" y="104.97" class="m e" fill="#d81818" stroke="#d81818">8°</text>
<text x="791.02" y="104.97" class="m e" fill="#d81818" stroke="#d81818">(351°)</text>
<g fill="#1060e0" stroke="#1060e0">
<text x="326.30" y="117.05" class="m">KIRO-TV</text>
<text x="413.86" y="117.05" class="m e">39</text>
<text x="461.00" y="117.05" class="m e">(7.1)</text>
<text x="494.68" y="117.05" class="m e">CBS</text>
<text x="548.56" y="117.05" class="m e">25.1</text>
<text x="609.17" y="117.05" class="m e">-65.8</text>
<text x="656.32" y="117.05" class="m e">1Edge</text>
<text x="703.46" y="117.05" class="m e">32.5</text>
</g>
<text x="743.87" y="117.05" class="m e" fill="#1080a0" stroke="#1080a0">176°</text>
<text x="791.02" y="117.05" class="m e" fill="#1080a0" stroke="#1080a0">(159°)</text>
<g fill="#1060e0" stroke="#1060e0">
<text x="326.30" y="129.12" class="m">KSTW-DT</text>
<text x="413.86" y="129.12" class="m e">11</text>
<text x="461.00" y="129.12" class="m e">(11.1)</text>
<text x="494.68" y="129.12" class="m e">CW</text>
<text x="548.56" y="129.12" class="m e">24.5</text>
<text x="609.17" y="129.12" class="m e">-66.3</text>
<text x="656.32" y="129.12" class="m e">2Edge</text>
<text x="703.46" y="129.12" class="m e">33.9</text>
</g>
<text x="743.87" y="129.12" class="m e" fill="#108098" stroke="#108098">173°</text>
<text x="791.02" y="129.12" class="m e" fill="#108098" stroke="#108098">(156°)</text>
<g fill="#1060e0" stroke="#1060e0">
<text x="326.30" y="141.20" class="m">KBCB-DT</text>
<text x="413.86" y="141.20" class="m e">19</text>
<text x="461.00" y="141.20" class="m e">(24.1)</text>
<text x="494.68" y="141.20" class="m e">Ind</text>
<text x="548.56" y="141.20" class="m e">23.2</text>
<text x="609.17" y="141.20" class="m e">-67.7</text>
<text x="656.32" y="141.20" class="m e">1Edge</text>
<text x="703.46" y="141.20" class="m e">44.7</text>
</g>
<text x="743.87" y="141.20" class="m e" fill="#cc1048" stroke="#cc1048">333°</text>
<text x="791.02" y="141.20" class="m e" fill="#cc1048" stroke="#cc1048">(316°)</text>
<g fill="#1060e0" stroke="#1060e0">
<text x="326.30" y="153.28" class="m">KOMO-TV</text>
<text x="413.86" y="153.28" class="m e">38</text>
<text x="461.00" y="153.28" class="m e">(4.1)</text>
<text x="494.68" y="153.28" class="m e">ABC</text>
<text x="548.56" y="153.28" class="m e">21.7</text>
<text x="609.17" y="153.28" class="m e">-69.1</text>
<text x="656.32" y="153.28" class="m e">2Edge</text>
<text x="703.46" y="153.28" class="m e">32.6</text>
</g>
<text x="743.87" y="153.28" class="m e" fill="#1080a0" stroke="#1080a0">176°</text>
<text x="791.02" y="153.28" class="m e" fill="#1080a0" stroke="#1080a0">(159°)</text>
<g fill="#1060e0" stroke="#1060e0">
<text x="326.30" y="165.35" class="m">KZJO</text>
<text x="413.86" y="165.35" class="m e">25</text>
<text x="548.56" y="165.35" class="m e">20.5</text>
<text x="609.17" y="165.35" class="m e">-70.4</text>
<text x="656.32" y="165.35" class="m e">2Edge</text>
<text x="703.46" y="165.35" class="m e">33.9</text>
</g>
<text x="743.87" y="165.35" class="m e" fill="#108098" stroke="#108098">173°</text>
<text x="791.02" y="165.35" class="m e" fill="#108098" stroke="#108098">(156°)</text>
<g fill="#1060e0" stroke="#1060e0">
<text x="326.30" y="177.43" class="m">KING-DT</text>
<text x="413.86" y="177.43" class="m e">48</text>
<text x="461.00" y="177.43" class="m e">(5.1)</text>
<text x="494.68" y="177.43" class="m e">NBC</text>
<text x="548.56" y="177.43" class="m e">20.3</text>
<text x="609.17" y="177.43" class="m e">-70.6</text>
<text x="656.32" y="177.43" class="m e">2Edge</text>
<text x="703.46" y="177.43" class="m e">32.6</text>
</g>
<text x="743.87" y="177.43" class="m e" fill="#1080a0" stroke="#1080a0">176°</text>
<text x="791.02" y="177.43" class="m e" fill="#1080a0" stroke="#1080a0">(159°)</text>
<g fill="#1060e0" stroke="#1060e0">
<text x="326.30" y="189.50" class="m">KCTS-DT</text>
<text x="413.86" y="189.50" class="m e">9</text>
<text x="461.00" y="189.50" class="m e">(9.1)</text>
<text x="494.68" y="189.50" class="m e">PBS</text>
<text x="548.56" y="189.50" class="m e">18.3</text>
<text x="609.17" y="189.50" class="m e">-72.6</text>
<text x="656.32" y="189.50" class="m e">2Edge</text>
<text x="703.46" y="189.50" class="m e">33.9</text>
</g>
<text x="743.87" y="189.50" class="m e" fill="#108098" stroke="#108098">173°</text>
<text x="791.02" y="189.50" class="m e" fill="#108098" stroke="#108098">(156°)</text>
<g fill="#1060e0" stroke="#1060e0">
<text x="326.30" y="201.58" class="m">KONG</text>
<text x="413.86" y="201.58" class="m e">31</text>
<text x="461.00" y="201.58" class="m e">(16.1)</text>
<text x="494.68" y="201.58" class="m e">Ind</text>
<text x="548.56" y="201.58" class="m e">16.1</text>
<text x="609.17" y="201.58" class="m e">-74.7</text>
<text x="656.32" y="201.58" class="m e">2Edge</text>
<text x="703.46" y="201.58" class="m e">32.6</text>
</g>
<text x="743.87" y="201.58" class="m e" fill="#1080a0" stroke="#1080a0">176°</text>
<text x="791.02" y="201.58" class="m e" fill="#1080a0" stroke="#1080a0">(159°)</text>
<g fill="#1060e0" stroke="#1060e0">
<text x="326.30" y="213.65" class="m">KUNS-TV</text>
<text x="413.86" y="213.65" class="m e">50</text>
<text x="548.56" y="213.65" class="m e">15.7</text>
<text x="609.17" y="213.65" class="m e">-75.1</text>
<text x="656.32" y="213.65" class="m e">2Edge</text>
<text x="703.46" y="213.65" class="m e">32.6</text>
</g>
<text x="743.87" y="213.65" class="m e" fill="#1080a0" stroke="#1080a0">176°</text>
<text x="791.02" y="213.65" class="m e" fill="#1080a0" stroke="#1080a0">(159°)</text>
<g fill="#9010d0" stroke="#9010d0">
<text x="326.30" y="225.73" class="m">CBUT</text>
<text x="413.86" y="225.73" class="m e">2</text>
<text x="494.68" y="225.73" class="m e">CBC</text>
<text x="548.56" y="225.73" class="m e">15.0</text>
<text x="609.17" y="225.73" class="m e">-63.9</text>
<text x="656.32" y="225.73" class="m e">1Edge</text>
<text x="703.46" y="225.73" class="m e">90.0</text>
</g>
<text x="743.87" y="225.73" class="m e" fill="#d01030" stroke="#d01030">344°</text>
<text x="791.02" y="225.73" class="m e" fill="#d01030" stroke="#d01030">(327°)</text>
<g fill="#9010d0" stroke="#9010d0">
<text x="326.30" y="237.81" class="m">CHEK-TV</text>
<text x="413.86" y="237.81" class="m e">6</text>
<text x="548.56" y="237.81" class="m e">13.6</text>
<text x="609.17" y="237.81" class="m e">-65.2</text>
<text x="656.32" y="237.81" class="m e">2Edge</text>
<text x="703.46" y="237.81" class="m e">58.3</text>
</g>
<text x="743.87" y="237.81" class="m e" fill="#cc1068" stroke="#cc1068">323°</text>
<text x="791.02" y="237.81" class="m e" fill="#cc1068" stroke="#cc1068">(306°)</text>
<g fill="#1060e0" stroke="#1060e0">
<text x="326.30" y="249.88" class="m">K24IC-D</text>
<text x="413.86" y="249.88" class="m e">24</text>
<text x="461.00" y="249.88" class="m e">(28.1)</text>
<text x="548.56" y="249.88" class="m e">11.8</text>
<text x="609.17" y="249.88" class="m e">-79.1</text>
<text x="656.32" y="249.88" class="m e">1Edge</text>
<text x="703.46" y="249.88" class="m e">44.7</text>
</g>
<text x="743.87" y="249.88" class="m e" fill="#cc1048" stroke="#cc1048">333°</text>
<text x="791.02" y="249.88" class="m e" fill="#cc1048" stroke="#cc1048">(316°)</text>
<g fill="#9010d0" stroke="#9010d0">
<text x="326.30" y="261.96" class="m">CKVU-TV</text>
<text x="413.86" y="261.96" class="m e">10</text>
<text x="548.56" y="261.96" class="m e">11.3</text>
<text x="609.17" y="261.96" class="m e">-67.6</text>
<text x="656.32" y="261.96" class="m e">2Edge</text>
<text x="703.46" y="261.96" class="m e">67.3</text>
</g>
<text x="743.87" y="261.96" class="m e" fill="#c81088" stroke="#c81088">312°</text>
<text x="791.02" y="261.96" class="m e" fill="#c81088" stroke="#c81088">(295°)</text>
<g fill="#1060e0" stroke="#1060e0">
<text x="326.30" y="274.03" class="m">KWDK-DT</text>
<text x="413.86" y="274.03" class="m e">42</text>
<text x="461.00" y="274.03" class="m e">(56.1)</text>
<text x="494.68" y="274.03" class="m e">Ind</text>
<text x="548.56" y="274.03" class="m e">11.1</text>
<text x="609.17" y="274.03" class="m e">-79.7</text>
<text x="656.32" y="274.03" class="m e">2Edge</text>
<text x="703.46" y="274.03" class="m e">46.0</text>
</g>
<text x="743.87" y="274.03" class="m e" fill="#108060" stroke="#108060">154°</text>
<text x="791.02" y="274.03" class="m e" fill="#108060" stroke="#108060">(137°)</text>
<g fill="#1060e0" stroke="#1060e0">
<text x="326.30" y="286.11" class="m">K62FS</text>
<text x="413.86" y="286.11" class="m e">51</text>
<text x="461.00" y="286.11" class="m e">(62.1)</text>
<text x="548.56" y="286.11" class="m e">8.8</text>
<text x="609.17" y="286.11" class="m e">-82.1</text>
<text x="656.32" y="286.11" class="m e">1Edge</text>
<text x="703.46" y="286.11" class="m e">25.0</text>
</g>
<text x="743.87" y="286.11" class="m e" fill="#3810b0" stroke="#3810b0">256°</text>
<text x="791.02" y="286.11" class="m e" fill="#3810b0" stroke="#3810b0">(240°)</text>
<g fill="#1060e0" stroke="#1060e0">
<text x="326.30" y="298.18" class="m">KWPX-DT</text>
<text x="413.86" y="298.18" class="m e">33</text>
<text x="461.00" y="298.18" class="m e">(33.1)</text>
<text x="494.68" y="298.18" class="m e">ION</text>
<text x="548.56" y="298.18" class="m e">8.3</text>
<text x="609.17" y="298.18" class="m e">-82.5</text>
<text x="656.32" y="298.18" class="m e">2Edge</text>
<text x="703.46" y="298.18" class="m e">46.0</text>
</g>
<text x="743.87" y="298.18" class="m e" fill="#108060" stroke="#108060">154°</text>
<text x="791.02" y="298.18" class="m e" fill="#108060" stroke="#108060">(137°)</text>
<g fill="#9010d0" stroke="#9010d0">
<text x="326.30" y="310.26" class="m">K62FS</text>
<text x="413.86" y="310.26" class="m e">62</text>
<text x="548.56" y="310.26" class="m e">6.3</text>
<text x="609.17" y="310.26" class="m e">-72.6</text>
<text x="656.32" y="310.26" class="m e">1Edge</text>
<text x="703.46" y="310.26" class="m e">25.0</text>
</g>
<text x="743.87" y="310.26" class="m e" fill="#3810b0" stroke="#3810b0">256°</text>
<text x="791.02" y="310.26" class="m e" fill="#3810b0" stroke="#3810b0">(240°)</text>
<g fill="#9010d0" stroke="#9010d0">
<text x="326.30" y="322.34" class="m">CHAN-TV</text>
<text x="413.86" y="322.34" class="m e">8</text>
<text x="494.68" y="322.34" class="m e">GTN</text>
<text x="548.56" y="322.34" class="m e">4.7</text>
<text x="609.17" y="322.34" class="m e">-74.1</text>
<text x="656.32" y="322.34" class="m e">1Edge</text>
<text x="703.46" y="322.34" class="m e">90.3</text>
</g>
<text x="743.87" y="322.34" class="m e" fill="#d01030" stroke="#d01030">344°</text>
<text x="791.02" y="322.34" class="m e" fill="#d01030" stroke="#d01030">(327°)</text>
<g fill="#1060e0" stroke="#1060e0">
<text x="326.30" y="334.41" class="m">KCPQ</text>
<text x="413.86" y="334.41" class="m e">22</text>
<text x="494.68" y="334.41" class="m e">Fox</text>
<text x="548.56" y="334.41" class="m e">2.0</text>
<text x="609.17" y="334.41" class="m e">-88.8</text>
<text x="656.32" y="334.41" class="m e">2Edge</text>
<text x="703.46" y="334.41" class="m e">33.9</text>
</g>
<text x="743.87" y="334.41" class="m e" fill="#108098" stroke="#108098">173°</text>
<text x="791.02" y="334.41" class="m e" fill="#108098" stroke="#108098">(156°)</text>
<g fill="#1060e0" stroke="#1060e0">
<text x="326.30" y="346.49" class="m">KFFV</text>
<text x="413.86" y="346.49" class="m e">44</text>
<text x="461.00" y="346.49" class="m e">(44.1)</text>
<text x="494.68" y="346.49" class="m e">Azt</text>
<text x="548.56" y="346.49" class="m e">-2.5</text>
<text x="609.17" y="346.49" class="m e">-93.3</text>
<text x="656.32" y="346.49" class="m e">2Edge</text>
<text x="703.46" y="346.49" class="m e">33.9</text>
</g>
<text x="743.87" y="346.49" class="m e" fill="#108098" stroke="#108098">173°</text>
<text x="791.02" y="346.49" class="m e" fill="#108098" stroke="#108098">(156°)</text>
<g fill="#1060e0" stroke="#1060e0">
<text x="326.30" y="358.56" class="m">KBTC-TV</text>
<text x="413.86" y="358.56" class="m e">27</text>
<text x="461.00" y="358.56" class="m e">(28.1)</text>
<text x="494.68" y="358.56" class="m e">PBS</text>
<text x="548.56" y="358.56" class="m e">-4.2</text>
<text x="609.17" y="358.56" class="m e">-95.1</text>
<text x="656.32" y="358.56" class="m e">2Edge</text>
<text x="703.46" y="358.56" class="m e">57.1</text>
</g>
<text x="743.87" y="358.56" class="m e" fill="#1078a8" stroke="#1078a8">185°</text>
<text x="791.02" y="358.56" class="m e" fill="#1078a8" stroke="#1078a8">(168°)</text>
<g fill="#1060e0" stroke="#1060e0">
<text x="326.30" y="370.64" class="m">CHAN-DT*</text>
<text x="413.86" y="370.64" class="m e">22</text>
<text x="461.00" y="370.64" class="m e">(22.1)</text>
<text x="548.56" y="370.64" class="m e">-6.1</text>
<text x="609.17" y="370.64" class="m e">-97.0</text>
<text x="656.32" y="370.64" class="m e">1Edge</text>
<text x="703.46" y="370.64" class="m e">90.3</text>
</g>
<text x="743.87" y="370.64" class="m e" fill="#d01030" stroke="#d01030">344°</text>
<text x="791.02" y="370.64" class="m e" fill="#d01030" stroke="#d01030">(327°)</text>
<g fill="#1060e0" stroke="#1060e0">
<text x="326.30" y="382.71" class="m">CBUT-DT*</text>
<text x="413.86" y="382.71" class="m e">43</text>
<text x="461.00" y="382.71" class="m e">(43.1)</text>
<text x="548.56" y="382.71" class="m e">-7.8</text>
<text x="609.17" y="382.71" class="m e">-98.7</text>
<text x="656.32" y="382.71" class="m e">1Edge</text>
<text x="703.46" y="382.71" class="m e">90.1</text>
</g>
<text x="743.87" y="382.71" class="m e" fill="#d01030" stroke="#d01030">344°</text>
<text x="791.02" y="382.71" class="m e" fill="#d01030" stroke="#d01030">(327°)</text>
<g fill="#9010d0" stroke="#9010d0">
<text x="326.30" y="394.79" class="m">CBUT-28</text>
<text x="413.86" y="394.79" class="m e">3</text>
<text x="494.68" y="394.79" class="m e">CBC</text>
<text x="548.56" y="394.79" class="m e">-8.3</text>
<text x="609.17" y="394.79" class="m e">-87.2</text>
<text x="656.32" y="394.79" class="m e">1Edge</text>
<text x="703.46" y="394.79" class="m e">61.9</text>
</g>
<text x="743.87" y="394.79" class="m e" fill="#9810c8" stroke="#9810c8">287°</text>
<text x="791.02" y="394.79" class="m e" fill="#9810c8" stroke="#9810c8">(270°)</text>
<g fill="#1060e0" stroke="#1060e0">
<text x="326.30" y="406.86" class="m">K08OU-D</text>
<text x="413.86" y="406.86" class="m e">8</text>
<text x="548.56" y="406.86" class="m e">-9.1</text>
<text x="609.17" y="406.86" class="m e">-99.9</text>
<text x="656.32" y="406.86" class="m e">2Edge</text>
<text x="703.46" y="406.86" class="m e">33.9</text>
</g>
<text x="743.87" y="406.86" class="m e" fill="#108098" stroke="#108098">173°</text>
<text x="791.02" y="406.86" class="m e" fill="#108098" stroke="#108098">(156°)</text>
<g fill="#1060e0" stroke="#1060e0">
<text x="326.30" y="418.94" class="m">CIVT-DT*</text>
<text x="413.86" y="418.94" class="m e">32</text>
<text x="461.00" y="418.94" class="m e">(32.1)</text>
<text x="548.56" y="418.94" class="m e">-9.5</text>
<text x="609.17" y="418.94" class="m e">-100.3</text>
<text x="656.32" y="418.94" class="m e">1Edge</text>
<text x="703.46" y="418.94" class="m e">90.3</text>
</g>
<text x="743.87" y="418.94" class="m e" fill="#d01030" stroke="#d01030">344°</text>
<text x="791.02" y="418.94" class="m e" fill="#d01030" stroke="#d01030">(327°)</text>
<g fill="#1060e0" stroke="#1060e0">
<text x="326.30" y="431.02" class="m">CIVI-DT*</text>
<text x="413.86" y="431.02" class="m e">17</text>
<text x="461.00" y="431.02" class="m e">(17.1)</text>
<text x="548.56" y="431.02" class="m e">-10.4</text>
<text x="609.17" y="431.02" class="m e">-101.3</text>
<text x="656.32" y="431.02" class="m e">1Edge</text>
<text x="703.46" y="431.02" class="m e">90.2</text>
</g>
<text x="743.87" y="431.02" class="m e" fill="#d01030" stroke="#d01030">344°</text>
<text x="791.02" y="431.02" class="m e" fill="#d01030" stroke="#d01030">(327°)</text>
<g fill="#1060e0" stroke="#1060e0">
<text x="326.30" y="443.09" class="m">K17IZ-D</text>
<text x="413.86" y="443.09" class="m e">17</text>
<text x="548.56" y="443.09" class="m e">-10.4</text>
<text x="609.17" y="443.09" class="m e">-101.3</text>
<text x="656.32" y="443.09" class="m e">2Edge</text>
<text x="703.46" y="443.09" class="m e">13.3</text>
</g>
<text x="743.87" y="443.09" class="m e" fill="#288810" stroke="#288810">111°</text>
<text x="791.02" y="443.09" class="m e" fill="#288810" stroke="#288810">(94°)</text>
<g fill="#1060e0" stroke="#1060e0">
<text x="326.30" y="455.17" class="m">CHEK-DT</text>
<text x="413.86" y="455.17" class="m e">49</text>
<text x="461.00" y="455.17" class="m e">(49.1)</text>
<text x="548.56" y="455.17" class="m e">-12.1</text>
<text x="609.17" y="455.17" class="m e">-102.9</text>
<text x="656.32" y="455.17" class="m e">2Edge</text>
<text x="703.46" y="455.17" class="m e">58.3</text>
</g>
<text x="743.87" y="455.17" class="m e" fill="#cc1068" stroke="#cc1068">323°</text>
<text x="791.02" y="455.17" class="m e" fill="#cc1068" stroke="#cc1068">(306°)</text>
<g fill="#1060e0" stroke="#1060e0">
<text x="326.30" y="467.24" class="m">CBUFT-DT</text>
<text x="413.86" y="467.24" class="m e">26</text>
<text x="461.00" y="467.24" class="m e">(26.1)</text>
<text x="494.68" y="467.24" class="m e">SRC</text>
<text x="548.56" y="467.24" class="m e">-12.3</text>
<text x="609.17" y="467.24" class="m e">-103.1</text>
<text x="656.32" y="467.24" class="m e">1Edge</text>
<text x="703.46" y="467.24" class="m e">90.0</text>
</g>
<text x="743.87" y="467.24" class="m e" fill="#d01030" stroke="#d01030">344°</text>
<text x="791.02" y="467.24" class="m e" fill="#d01030" stroke="#d01030">(327°)</text>
<g fill="#1060e0" stroke="#1060e0">
<text x="326.30" y="479.32" class="m">KIRO-TV</text>
<text x="413.86" y="479.32" class="m e">51</text>
<text x="494.68" y="479.32" class="m e">CBS</text>
<text x="548.56" y="479.32" class="m e">-12.3</text>
<text x="609.17" y="479.32" class="m e">-103.2</text>
<text x="656.32" y="479.32" class="m e">2Edge</text>
<text x="703.46" y="479.32" class="m e">46.0</text>
</g>
<text x="743.87" y="479.32" class="m e" fill="#108060" stroke="#108060">154°</text>
<text x="791.02" y="479.32" class="m e" fill="#108060" stroke="#108060">(137°)</text>
<g fill="#1060e0" stroke="#1060e0">
<text x="326.30" y="491.39" class="m">CHNM-DT*</text>
<text x="413.86" y="491.39" class="m e">20</text>
<text x="461.00" y="491.39" class="m e">(20.1)</text>
<text x="548.56" y="491.39" class="m e">-13.0</text>
<text x="609.17" y="491.39" class="m e">-103.8</text>
<text x="656.32" y="491.39" class="m e">1Edge</text>
<text x="703.46" y="491.39" class="m e">90.3</text>
</g>
<text x="743.87" y="491.39" class="m e" fill="#d01030" stroke="#d01030">344°</text>
<text x="791.02" y="491.39" class="m e" fill="#d01030" stroke="#d01030">(327°)</text>
<g fill="#1060e0" stroke="#1060e0">
<text x="326.30" y="503.47" class="m">CHAN-DT</text>
<text x="413.86" y="503.47" class="m e">22</text>
<text x="461.00" y="503.47" class="m e">(8.1)</text>
<text x="494.68" y="503.47" class="m e">GTN</text>
<text x="548.56" y="503.47" class="m e">-14.0</text>
<text x="609.17" y="503.47" class="m e">-104.8</text>
<text x="656.32" y="503.47" class="m e">1Edge</text>
<text x="703.46" y="503.47" class="m e">90.3</text>
</g>
<text x="743.87" y="503.47" class="m e" fill="#d01030" stroke="#d01030">344°</text>
<text x="791.02" y="503.47" class="m e" fill="#d01030" stroke="#d01030">(327°)</text>
<g fill="#1060e0" stroke="#1060e0">
<text x="326.30" y="515.55" class="m">KUSE-LD</text>
<text x="413.86" y="515.55" class="m e">46</text>
<text x="548.56" y="515.55" class="m e">-14.3</text>
<text x="609.17" y="515.55" class="m e">-105.2</text>
<text x="656.32" y="515.55" class="m e">2Edge</text>
<text x="703.46" y="515.55" class="m e">46.0</text>
</g>
<text x="743.87" y="515.55" class="m e" fill="#108060" stroke="#108060">154°</text>
<text x="791.02" y="515.55" class="m e" fill="#108060" stroke="#108060">(137°)</text>
<g fill="#1060e0" stroke="#1060e0">
<text x="326.30" y="527.62" class="m">CKVU-DT*</text>
<text x="413.86" y="527.62" class="m e">33</text>
<text x="461.00" y="527.62" class="m e">(33.1)</text>
<text x="548.56" y="527.62" class="m e">-15.0</text>
<text x="609.17" y="527.62" class="m e">-105.8</text>
<text x="656.32" y="527.62" class="m e">1Edge</text>
<text x="703.46" y="527.62" class="m e">90.3</text>
</g>
<text x="743.87" y="527.62" class="m e" fill="#d01030" stroke="#d01030">344°</text>
<text x="791.02" y="527.62" class="m e" fill="#d01030" stroke="#d01030">(327°)</text>
<g fill="#1060e0" stroke="#1060e0">
<text x="326.30" y="539.70" class="m">CBUT-DT</text>
<text x="413.86" y="539.70" class="m e">58</text>
<text x="461.00" y="539.70" class="m e">(2.1)</text>
<text x="494.68" y="539.70" class="m e">CBC</text>
<text x="548.56" y="539.70" class="m e">-16.3</text>
<text x="609.17" y="539.70" class="m e">-107.1</text>
<text x="656.32" y="539.70" class="m e">1Edge</text>
<text x="703.46" y="539.70" class="m e">90.0</text>
</g>
<text x="743.87" y="539.70" class="m e" fill="#d01030" stroke="#d01030">344°</text>
<text x="791.02" y="539.70" class="m e" fill="#d01030" stroke="#d01030">(327°)</text>
<g fill="#1060e0" stroke="#1060e0">
<text x="326.30" y="551.77" class="m">KBTC-TV</text>
<text x="413.86" y="551.77" class="m e">16</text>
<text x="494.68" y="551.77" class="m e">PBS</text>
<text x="548.56" y="551.77" class="m e">-16.4</text>
<text x="609.17" y="551.77" class="m e">-107.2</text>
<text x="656.32" y="551.77" class="m e">2Edge</text>
<text x="703.46" y="551.77" class="m e">33.9</text>
</g>
<text x="743.87" y="551.77" class="m e" fill="#108098" stroke="#108098">173°</text>
<text x="791.02" y="551.77" class="m e" fill="#108098" stroke="#108098">(156°)</text>
<g fill="#1060e0" stroke="#1060e0">
<text x="326.30" y="563.85" class="m">CKVU-DT</text>
<text x="413.86" y="563.85" class="m e">47</text>
<text x="461.00" y="563.85" class="m e">(10.1)</text>
<text x="548.56" y="563.85" class="m e">-16.9</text>
<text x="609.17" y="563.85" class="m e">-107.7</text>
<text x="656.32" y="563.85" class="m e">1Edge</text>
<text x="703.46" y="563.85" class="m e">90.3</text>
</g>
<text x="743.87" y="563.85" class="m e" fill="#d01030" stroke="#d01030">344°</text>
<text x="791.02" y="563.85" class="m e" fill="#d01030" stroke="#d01030">(327°)</text>
<g fill="#9010d0" stroke="#9010d0">
<text x="326.30" y="575.92" class="m">CIVI-TV*</text>
<text x="413.86" y="575.92" class="m e">17</text>
<text x="494.68" y="575.92" class="m e">A</text>
<text x="548.56" y="575.92" class="m e">-17.5</text>
<text x="609.17" y="575.92" class="m e">-96.4</text>
<text x="656.32" y="575.92" class="m e">1Edge</text>
<text x="703.46" y="575.92" class="m e">90.2</text>
</g>
<text x="743.87" y="575.92" class="m e" fill="#d01030" stroke="#d01030">344°</text>
<text x="791.02" y="575.92" class="m e" fill="#d01030" stroke="#d01030">(327°)</text>
<g fill="#9010d0" stroke="#9010d0">
<text x="326.30" y="588.00" class="m">CHNM-TV</text>
<text x="413.86" y="588.00" class="m e">42</text>
<text x="548.56" y="588.00" class="m e">-19.0</text>
<text x="609.17" y="588.00" class="m e">-97.9</text>
<text x="656.32" y="588.00" class="m e">1Edge</text>
<text x="703.46" y="588.00" class="m e">90.0</text>
</g>
<text x="743.87" y="588.00" class="m e" fill="#d01030" stroke="#d01030">344°</text>
<text x="791.02" y="588.00" class="m e" fill="#d01030" stroke="#d01030">(327°)</text>
<g fill="#9010d0" stroke="#9010d0">
<text x="326.30" y="600.08" class="m">CBUFT</text>
<text x="413.86" y="600.08" class="m e">26</text>
<text x="494.68" y="600.08" class="m e">SRC</text>
<text x="548.56" y="600.08" class="m e">-20.1</text>
<text x="609.17" y="600.08" class="m e">-98.9</text>
<text x="656.32" y="600.08" class="m e">1Edge</text>
<text x="703.46" y="600.08" class="m e">90.0</text>
</g>
<text x="743.87" y="600.08" class="m e" fill="#d01030" stroke="#d01030">344°</text>
<text x="791.02" y="600.08" class="m e" fill="#d01030" stroke="#d01030">(327°)</text>
<g fill="#1060e0" stroke="#1060e0">
<text x="326.30" y="612.15" class="m">K47LG-D</text>
<text x="413.86" y="612.15" class="m e">47</text>
<text x="548.56" y="612.15" class="m e">-21.9</text>
<text x="609.17" y="612.15" class="m e">-112.7</text>
<text x="656.32" y="612.15" class="m e">2Edge</text>
<text x="703.46" y="612.15" class="m e">46.6</text>
</g>
<text x="743.87" y="612.15" class="m e" fill="#107ca5" stroke="#107ca5">182°</text>
<text x="791.02" y="612.15" class="m e" fill="#107ca5" stroke="#107ca5">(165°)</text>
<g fill="#1060e0" stroke="#1060e0">
<text x="326.30" y="624.23" class="m">CHNM-DT*</text>
<text x="413.86" y="624.23" class="m e">20</text>
<text x="461.00" y="624.23" class="m e">(20.1)</text>
<text x="548.56" y="624.23" class="m e">-24.2</text>
<text x="609.17" y="624.23" class="m e">-115.1</text>
<text x="656.32" y="624.23" class="m e">1Edge</text>
<text x="703.46" y="624.23" class="m e">90.0</text>
</g>
<text x="743.87" y="624.23" class="m e" fill="#d01030" stroke="#d01030">344°</text>
<text x="791.02" y="624.23" class="m e" fill="#d01030" stroke="#d01030">(327°)</text>
<g fill="#1060e0" stroke="#1060e0">
<text x="326.30" y="636.30" class="m">KCKA</text>
<text x="413.86" y="636.30" class="m e">19</text>
<text x="461.00" y="636.30" class="m e">(15.1)</text>
<text x="494.68" y="636.30" class="m e">PBS</text>
<text x="548.56" y="636.30" class="m e">-26.7</text>
<text x="609.17" y="636.30" class="m e">-117.5</text>
<text x="656.32" y="636.30" class="m e">Tropo</text>
<text x="703.46" y="636.30" class="m e">111.3</text>
</g>
<text x="743.87" y="636.30" class="m e" fill="#1064b4" stroke="#1064b4">196°</text>
<text x="791.02" y="636.30" class="m e" fill="#1064b4" stroke="#1064b4">(179°)</text>
<g fill="#9010d0" stroke="#9010d0">
<text x="326.30" y="648.38" class="m">CHNM-TV*</text>
<text x="413.86" y="648.38" class="m e">29</text>
<text x="548.56" y="648.38" class="m e">-28.8</text>
<text x="609.17" y="648.38" class="m e">-107.7</text>
<text x="656.32" y="648.38" class="m e">2Edge</text>
<text x="703.46" y="648.38" class="m e">58.7</text>
</g>
<text x="743.87" y="648.38" class="m e" fill="#a810c4" stroke="#a810c4">294°</text>
<text x="791.02" y="648.38" class="m e" fill="#a810c4" stroke="#a810c4">(277°)</text>
</g>
<g id="charts">
<rect x="39" y="637.3" width="9.7" height="121.85" fill="#e6e6e6"/>
<rect x="70.2" y="637.3" width="30.4" height="121.85" fill="#e6e6e6"/>
<path d="M9,645.30H173M216,645.30H791.5" stroke="#6a6a6a" stroke-width="0.8" stroke-dasharray="1.25 1.25" fill="none"/>
<path d="M9,658.05H173M216,658.05H791.5" stroke="#6a6a6a" stroke-width="0.8" stroke-dasharray="1.25 1.25" fill="none"/>
<path d="M9,670.80H173M216,670.80H791.5" stroke="#6a6a6a" stroke-width="0.8" stroke-dasharray="1.25 1.25" fill="none"/>
<path d="M9,683.55H173M216,683.55H791.5" stroke="#6a6a6a" stroke-width="0.8" stroke-dasharray="1.25 1.25" fill="none"/>
<path d="M9,696.30H173M216,696.30H791.5" stroke="#6a6a6a" stroke-width="0.8" stroke-dasharray="1.25 1.25" fill="none"/>
<path d="M9,709.05H173M216,709.05H791.5" stroke="#6a6a6a" stroke-width="0.8" stroke-dasharray="1.25 1.25" fill="none"/>
<path d="M9,721.80H173M216,721.80H791.5" stroke="#6a6a6a" stroke-width="0.8" stroke-dasharray="1.25 1.25" fill="none"/>
<path d="M9,734.55H173M216,734.55H791.5" stroke="#6a6a6a" stroke-width="0.8" stroke-dasharray="1.25 1.25" fill="none"/>
<path d="M9,747.30H173M216,747.30H791.5" stroke="#6a6a6a" stroke-width="0.8" stroke-dasharray="1.25 1.25" fill="none"/>
<path d="M7.8,631.65V760.9499999999999M173.8,631.65V760.9499999999999M7.8,632.55H12.6M65,632.55H110.4M163,632.55H173.8" stroke="#000" stroke-width="1.7" fill="none"/>
<path d="M214.3,631.65V760.9499999999999M792.4,631.65V760.9499999999999M214.3,632.55H482.4M523.8,632.55H792.4" stroke="#000" stroke-width="1.7" fill="none"/>
<path d="M7.80,760.05H10.10M16.50,760.05H31.10M37.50,760.05H52.30M58.70,760.05H61.30M67.70,760.05H103.20M109.60,760.05H123.74M130.14,760.05H142.08M152.88,760.05H163.02" stroke="#000" stroke-width="1.7" fill="none"/>
<text x="13.30" y="762.65" class="d" font-size="6.8" text-anchor="middle" fill="#111">2</text>
<text x="34.30" y="762.65" class="d" font-size="6.8" text-anchor="middle" fill="#111">4</text>
<text x="55.50" y="762.65" class="d" font-size="6.8" text-anchor="middle" fill="#111">5</text>
<text x="64.50" y="762.65" class="d" font-size="6.8" text-anchor="middle" fill="#111">6</text>
<text x="106.40" y="762.65" class="d" font-size="6.8" text-anchor="middle" fill="#111">7</text>
<text x="126.94" y="762.65" class="d" font-size="6.8" text-anchor="middle" fill="#111">9</text>
<text x="147.48" y="762.65" class="d" font-size="6.8" text-anchor="middle" fill="#111">11</text>
<text x="168.42" y="762.65" class="d" font-size="6.8" text-anchor="middle" fill="#111">13</text>
<path d="M214.30,760.05H214.50M225.30,760.05H234.56M245.36,760.05H265.55M276.35,760.05H296.54M307.34,760.05H327.53M338.33,760.05H358.52M369.32,760.05H389.51M400.31,760.05H420.50M431.30,760.05H451.49M462.29,760.05H482.48M493.28,760.05H513.47M524.27,760.05H544.46M555.26,760.05H575.45M586.25,760.05H606.44M617.24,760.05H637.43M648.23,760.05H668.42M679.22,760.05H699.41M710.21,760.05H730.40M741.20,760.05H761.39M772.19,760.05H781.65" stroke="#000" stroke-width="1.7" fill="none"/>
<text x="219.90" y="762.65" class="d" font-size="6.8" text-anchor="middle" fill="#111">14</text>
<text x="239.96" y="762.65" class="d" font-size="6.8" text-anchor="middle" fill="#111">16</text>
<text x="270.95" y="762.65" class="d" font-size="6.8" text-anchor="middle" fill="#111">19</text>
<text x="301.94" y="762.65" class="d" font-size="6.8" text-anchor="middle" fill="#111">22</text>
<text x="332.93" y="762.65" class="d" font-size="6.8" text-anchor="middle" fill="#111">25</text>
<text x="363.92" y="762.65" class="d" font-size="6.8" text-anchor="middle" fill="#111">28</text>
<text x="394.91" y="762.65" class="d" font-size="6.8" text-anchor="middle" fill="#111">31</text>
<text x="425.90" y="762.65" class="d" font-size="6.8" text-anchor="middle" fill="#111">34</text>
<text x="456.89" y="762.65" class="d" font-size="6.8" text-anchor="middle" fill="#111">37</text>
<text x="487.88" y="762.65" class="d" font-size="6.8" text-anchor="middle" fill="#111">40</text>
<text x="518.87" y="762.65" class="d" font-size="6.8" text-anchor="middle" fill="#111">43</text>
<text x="549.86" y="762.65" class="d" font-size="6.8" text-anchor="middle" fill="#111">46</text>
<text x="580.85" y="762.65" class="d" font-size="6.8" text-anchor="middle" fill="#111">49</text>
<text x="611.84" y="762.65" class="d" font-size="6.8" text-anchor="middle" fill="#111">52</text>
<text x="642.83" y="762.65" class="d" font-size="6.8" text-anchor="middle" fill="#111">55</text>
<text x="673.82" y="762.65" class="d" font-size="6.8" text-anchor="middle" fill="#111">58</text>
<text x="704.81" y="762.65" class="d" font-size="6.8" text-anchor="middle" fill="#111">61</text>
<text x="735.80" y="762.65" class="d" font-size="6.8" text-anchor="middle" fill="#111">64</text>
<text x="766.79" y="762.65" class="d" font-size="6.8" text-anchor="middle" fill="#111">67</text>
<text x="787.05" y="762.65" class="d" font-size="6.8" text-anchor="middle" fill="#111">69</text>
<g clip-path="url(#vclip)">
<rect x="163.22" y="640.93" width="8.6" height="44.01" fill="#fff" fill-opacity="0.7"/>
<text transform="translate(171.12,684.33) rotate(-90)" class="r" fill="#1060e0">KCPQ-DT</text>
<rect x="142.68" y="666.30" width="8.6" height="45.28" fill="#fff" fill-opacity="0.7"/>
<text transform="translate(150.58,710.98) rotate(-90)" class="r" fill="#1060e0">KSTW-DT</text>
<rect x="122.14" y="677.26" width="8.6" height="42.35" fill="#fff" fill-opacity="0.7"/>
<text transform="translate(130.04,719.01) rotate(-90)" class="r" fill="#1060e0">KCTS-DT</text>
<rect x="8.50" y="681.14" width="8.6" height="27.38" fill="#fff" fill-opacity="0.7"/>
<text transform="translate(16.40,707.92) rotate(-90)" class="r" fill="#9010d0">CBUT</text>
<rect x="59.70" y="668.69" width="8.6" height="41.49" fill="#fff" fill-opacity="0.7"/>
<text transform="translate(67.60,709.58) rotate(-90)" class="r" fill="#9010d0">CHEK-TV</text>
<rect x="132.41" y="670.43" width="8.6" height="42.81" fill="#fff" fill-opacity="0.7"/>
<text transform="translate(140.31,712.64) rotate(-90)" class="r" fill="#9010d0">CKVU-TV</text>
<rect x="111.87" y="677.64" width="8.6" height="43.89" fill="#fff" fill-opacity="0.7"/>
<text transform="translate(119.77,720.93) rotate(-90)" class="r" fill="#d2a2e6">CHAN-TV</text>
<rect x="18.70" y="696.05" width="8.6" height="42.18" fill="#fff" fill-opacity="0.7"/>
<text transform="translate(26.60,737.63) rotate(-90)" class="r" fill="#d2a2e6">CBUT-28</text>
<rect x="111.87" y="709.27" width="8.6" height="45.15" fill="#fff" fill-opacity="0.7"/>
<text transform="translate(119.77,753.82) rotate(-90)" class="r" fill="#92bcee">K08OU-D</text>
<rect x="161.72" y="687.13" width="12.6" height="6.6" rx="3.3" fill="#fff600"/>
<rect x="163.42" y="688.53" width="9.2" height="3.8" rx="1.2" fill="#0b3a8c"/>
<rect x="163.82" y="689.23" width="8.4" height="2.4" rx="0.8" fill="#0f5fd0"/>
<rect x="141.18" y="713.78" width="12.6" height="6.6" rx="3.3" fill="#fff600"/>
<rect x="142.88" y="715.18" width="9.2" height="3.8" rx="1.2" fill="#0b3a8c"/>
<rect x="143.28" y="715.88" width="8.4" height="2.4" rx="0.8" fill="#0f5fd0"/>
<rect x="120.64" y="721.81" width="12.6" height="6.6" rx="3.3" fill="#fff600"/>
<rect x="122.34" y="723.21" width="9.2" height="3.8" rx="1.2" fill="#0b3a8c"/>
<rect x="122.74" y="723.91" width="8.4" height="2.4" rx="0.8" fill="#0f5fd0"/>
<rect x="7.00" y="710.72" width="12.6" height="6.6" rx="3.3" fill="#fff600"/>
<rect x="8.70" y="712.12" width="9.2" height="3.8" rx="1.2" fill="#5a0d96"/>
<rect x="9.10" y="712.82" width="8.4" height="2.4" rx="0.8" fill="#7808d4"/>
<rect x="58.20" y="712.38" width="12.6" height="6.6" rx="3.3" fill="#fff600"/>
<rect x="59.90" y="713.78" width="9.2" height="3.8" rx="1.2" fill="#5a0d96"/>
<rect x="60.30" y="714.48" width="8.4" height="2.4" rx="0.8" fill="#7808d4"/>
<rect x="130.91" y="715.44" width="12.6" height="6.6" rx="3.3" fill="#fff600"/>
<rect x="132.61" y="716.84" width="9.2" height="3.8" rx="1.2" fill="#5a0d96"/>
<rect x="133.01" y="717.54" width="8.4" height="2.4" rx="0.8" fill="#7808d4"/>
<rect x="110.37" y="723.73" width="12.6" height="6.6" rx="3.3" fill="#fbf38a"/>
<rect x="112.07" y="725.13" width="9.2" height="3.8" rx="1.2" fill="#b47ad0"/>
<rect x="112.47" y="725.83" width="8.4" height="2.4" rx="0.8" fill="#c48ae0"/>
<rect x="17.20" y="740.43" width="12.6" height="6.6" rx="3.3" fill="#fbf38a"/>
<rect x="18.90" y="741.83" width="9.2" height="3.8" rx="1.2" fill="#b47ad0"/>
<rect x="19.30" y="742.53" width="8.4" height="2.4" rx="0.8" fill="#c48ae0"/>
<rect x="110.37" y="756.62" width="12.6" height="6.6" rx="3.3" fill="#fbf38a"/>
<rect x="112.07" y="758.02" width="9.2" height="3.8" rx="1.2" fill="#6f9fdc"/>
<rect x="112.47" y="758.72" width="8.4" height="2.4" rx="0.8" fill="#7db0ea"/>
</g><g clip-path="url(#uclip)">
<rect x="431.43" y="636.08" width="8.6" height="44.27" fill="#fff" fill-opacity="0.7"/>
<text transform="translate(439.33,679.74) rotate(-90)" class="r" fill="#1060e0">KVOS-DT</text>
<rect x="214.50" y="643.70" width="8.6" height="44.68" fill="#fff" fill-opacity="0.7"/>
<text transform="translate(222.40,687.78) rotate(-90)" class="r" fill="#1060e0">KTBW-DT</text>
<rect x="369.45" y="661.20" width="8.6" height="33.17" fill="#fff" fill-opacity="0.7"/>
<text transform="translate(377.35,693.77) rotate(-90)" class="r" fill="#1060e0">K29ED</text>
<rect x="369.45" y="653.81" width="8.6" height="33.17" fill="#fff" fill-opacity="0.7"/>
<text transform="translate(377.35,686.37) rotate(-90)" class="r" fill="#9010d0">K29ED</text>
<rect x="359.12" y="671.11" width="8.6" height="39.84" fill="#fff" fill-opacity="0.7"/>
<text transform="translate(367.02,710.34) rotate(-90)" class="r" fill="#1060e0">KIRO-TV</text>
<rect x="472.75" y="671.11" width="8.6" height="39.84" fill="#fff" fill-opacity="0.7"/>
<text transform="translate(480.65,710.34) rotate(-90)" class="r" fill="#1060e0">KIRO-TV</text>
<rect x="266.15" y="669.45" width="8.6" height="43.92" fill="#fff" fill-opacity="0.7"/>
<text transform="translate(274.05,712.77) rotate(-90)" class="r" fill="#1060e0">KBCB-DT</text>
<rect x="462.42" y="669.50" width="8.6" height="45.65" fill="#fff" fill-opacity="0.7"/>
<text transform="translate(470.32,714.55) rotate(-90)" class="r" fill="#1060e0">KOMO-TV</text>
<rect x="328.13" y="692.35" width="8.6" height="24.46" fill="#fff" fill-opacity="0.7"/>
<text transform="translate(336.03,716.21) rotate(-90)" class="r" fill="#1060e0">KZJO</text>
<rect x="565.72" y="675.39" width="8.6" height="41.67" fill="#fff" fill-opacity="0.7"/>
<text transform="translate(573.62,716.46) rotate(-90)" class="r" fill="#1060e0">KING-DT</text>
<rect x="390.11" y="693.14" width="8.6" height="29.15" fill="#fff" fill-opacity="0.7"/>
<text transform="translate(398.01,721.69) rotate(-90)" class="r" fill="#1060e0">KONG</text>
<rect x="586.38" y="680.24" width="8.6" height="42.56" fill="#fff" fill-opacity="0.7"/>
<text transform="translate(594.28,722.20) rotate(-90)" class="r" fill="#1060e0">KUNS-TV</text>
<rect x="317.80" y="687.80" width="8.6" height="40.10" fill="#fff" fill-opacity="0.7"/>
<text transform="translate(325.70,727.30) rotate(-90)" class="r" fill="#1060e0">K24IC-D</text>
<rect x="503.74" y="682.62" width="8.6" height="46.05" fill="#fff" fill-opacity="0.7"/>
<text transform="translate(511.64,728.07) rotate(-90)" class="r" fill="#92bcee">KWDK-DT</text>
<rect x="596.71" y="700.57" width="8.6" height="31.16" fill="#fff" fill-opacity="0.7"/>
<text transform="translate(604.61,731.13) rotate(-90)" class="r" fill="#92bcee">K62FS</text>
<rect x="410.77" y="686.98" width="8.6" height="45.26" fill="#fff" fill-opacity="0.7"/>
<text transform="translate(418.67,731.64) rotate(-90)" class="r" fill="#92bcee">KWPX-DT</text>
<rect x="710.34" y="688.46" width="8.6" height="31.16" fill="#fff" fill-opacity="0.7"/>
<text transform="translate(718.24,719.01) rotate(-90)" class="r" fill="#9010d0">K62FS</text>
<rect x="297.14" y="713.25" width="8.6" height="27.02" fill="#fff" fill-opacity="0.7"/>
<text transform="translate(305.04,739.67) rotate(-90)" class="r" fill="#92bcee">KCPQ</text>
<rect x="524.40" y="720.90" width="8.6" height="25.11" fill="#fff" fill-opacity="0.7"/>
<text transform="translate(532.30,745.41) rotate(-90)" class="r" fill="#1060e0">KFFV</text>
<rect x="348.79" y="707.20" width="8.6" height="41.10" fill="#fff" fill-opacity="0.7"/>
<text transform="translate(356.69,747.70) rotate(-90)" class="r" fill="#92bcee">KBTC-TV</text>
<rect x="297.14" y="691.53" width="8.6" height="59.19" fill="#fff" fill-opacity="0.7"/>
<text transform="translate(305.04,750.12) rotate(-90)" class="r" fill="#92bcee">CHAN-DT(1)</text>
<rect x="514.07" y="696.07" width="8.6" height="56.82" fill="#fff" fill-opacity="0.7"/>
<text transform="translate(521.97,752.29) rotate(-90)" class="r" fill="#1060e0">CBUT-DT(1)</text>
<rect x="431.63" y="684.19" width="9.2" height="3.3" rx="0.8" fill="#0b3a8c"/>
<rect x="432.13" y="684.84" width="8.2" height="2.0" rx="0.5" fill="#0f5fd0"/>
<rect x="214.70" y="692.23" width="9.2" height="3.3" rx="0.8" fill="#0b3a8c"/>
<rect x="215.20" y="692.88" width="8.2" height="2.0" rx="0.5" fill="#0f5fd0"/>
<rect x="369.65" y="698.22" width="9.2" height="3.3" rx="0.8" fill="#0b3a8c"/>
<rect x="370.15" y="698.87" width="8.2" height="2.0" rx="0.5" fill="#0f5fd0"/>
<rect x="369.65" y="690.82" width="9.2" height="3.3" rx="0.8" fill="#5a0d96"/>
<rect x="370.15" y="691.47" width="8.2" height="2.0" rx="0.5" fill="#7808d4"/>
<rect x="359.32" y="714.79" width="9.2" height="3.3" rx="0.8" fill="#0b3a8c"/>
<rect x="359.82" y="715.44" width="8.2" height="2.0" rx="0.5" fill="#0f5fd0"/>
<rect x="472.95" y="714.79" width="9.2" height="3.3" rx="0.8" fill="#0b3a8c"/>
<rect x="473.45" y="715.44" width="8.2" height="2.0" rx="0.5" fill="#0f5fd0"/>
<rect x="266.35" y="717.22" width="9.2" height="3.3" rx="0.8" fill="#0b3a8c"/>
<rect x="266.85" y="717.87" width="8.2" height="2.0" rx="0.5" fill="#0f5fd0"/>
<rect x="462.62" y="719.00" width="9.2" height="3.3" rx="0.8" fill="#0b3a8c"/>
<rect x="463.12" y="719.65" width="8.2" height="2.0" rx="0.5" fill="#0f5fd0"/>
<rect x="328.33" y="720.66" width="9.2" height="3.3" rx="0.8" fill="#0b3a8c"/>
<rect x="328.83" y="721.31" width="8.2" height="2.0" rx="0.5" fill="#0f5fd0"/>
<rect x="565.92" y="720.91" width="9.2" height="3.3" rx="0.8" fill="#0b3a8c"/>
<rect x="566.42" y="721.56" width="8.2" height="2.0" rx="0.5" fill="#0f5fd0"/>
<rect x="390.31" y="726.14" width="9.2" height="3.3" rx="0.8" fill="#0b3a8c"/>
<rect x="390.81" y="726.79" width="8.2" height="2.0" rx="0.5" fill="#0f5fd0"/>
<rect x="586.58" y="726.65" width="9.2" height="3.3" rx="0.8" fill="#0b3a8c"/>
<rect x="587.08" y="727.30" width="8.2" height="2.0" rx="0.5" fill="#0f5fd0"/>
<rect x="318.00" y="731.75" width="9.2" height="3.3" rx="0.8" fill="#0b3a8c"/>
<rect x="318.50" y="732.40" width="8.2" height="2.0" rx="0.5" fill="#0f5fd0"/>
<rect x="503.94" y="732.52" width="9.2" height="3.3" rx="0.8" fill="#6f9fdc"/>
<rect x="504.44" y="733.17" width="8.2" height="2.0" rx="0.5" fill="#7db0ea"/>
<rect x="596.91" y="735.58" width="9.2" height="3.3" rx="0.8" fill="#6f9fdc"/>
<rect x="597.41" y="736.23" width="8.2" height="2.0" rx="0.5" fill="#7db0ea"/>
<rect x="410.97" y="736.09" width="9.2" height="3.3" rx="0.8" fill="#6f9fdc"/>
<rect x="411.47" y="736.74" width="8.2" height="2.0" rx="0.5" fill="#7db0ea"/>
<rect x="710.54" y="723.46" width="9.2" height="3.3" rx="0.8" fill="#5a0d96"/>
<rect x="711.04" y="724.11" width="8.2" height="2.0" rx="0.5" fill="#7808d4"/>
<rect x="297.34" y="744.12" width="9.2" height="3.3" rx="0.8" fill="#6f9fdc"/>
<rect x="297.84" y="744.77" width="8.2" height="2.0" rx="0.5" fill="#7db0ea"/>
<rect x="524.60" y="749.86" width="9.2" height="3.3" rx="0.8" fill="#0b3a8c"/>
<rect x="525.10" y="750.51" width="8.2" height="2.0" rx="0.5" fill="#0f5fd0"/>
<rect x="348.99" y="752.15" width="9.2" height="3.3" rx="0.8" fill="#6f9fdc"/>
<rect x="349.49" y="752.80" width="8.2" height="2.0" rx="0.5" fill="#7db0ea"/>
<rect x="297.34" y="754.57" width="9.2" height="3.3" rx="0.8" fill="#6f9fdc"/>
<rect x="297.84" y="755.22" width="8.2" height="2.0" rx="0.5" fill="#7db0ea"/>
<rect x="514.27" y="756.74" width="9.2" height="3.3" rx="0.8" fill="#0b3a8c"/>
<rect x="514.77" y="757.39" width="8.2" height="2.0" rx="0.5" fill="#0f5fd0"/>
</g>
<text x="40" y="636.4" class="s b" font-size="10.7" letter-spacing="0.42" text-anchor="middle">VHF Lo</text>
<text x="137.8" y="636.4" class="s b" font-size="10.7" letter-spacing="0.45" text-anchor="middle">VHF Hi</text>
<text x="503.3" y="636.4" class="s b" font-size="10.7" letter-spacing="0.1" text-anchor="middle">UHF</text>
<text x="194.2" y="635.1" class="s" font-size="10.4" text-anchor="middle">dBm</text>
<text x="194.3" y="647.90" class="s" font-size="10.4" text-anchor="middle">-10</text>
<text x="194.3" y="660.65" class="s" font-size="10.4" text-anchor="middle">-20</text>
<text x="194.3" y="673.40" class="s" font-size="10.4" text-anchor="middle">-30</text>
<text x="194.3" y="686.15" class="s" font-size="10.4" text-anchor="middle">-40</text>
<text x="194.3" y="698.90" class="s" font-size="10.4" text-anchor="middle">-50</text>
<text x="194.3" y="711.65" class="s" font-size="10.4" text-anchor="middle">-60</text>
<text x="194.3" y="724.40" class="s" font-size="10.4" text-anchor="middle">-70</text>
<text x="194.3" y="737.15" class="s" font-size="10.4" text-anchor="middle">-80</text>
<text x="194.3" y="749.90" class="s" font-size="10.4" text-anchor="middle">-90</text>
<text x="194.3" y="761.6" class="s" font-size="9.3" text-anchor="middle">Channel</text>
<rect x="346.5" y="617.3" width="7" height="11.4" fill="#c00000"/><text x="350" y="627.3" class="w">C</text>
<text x="361" y="628" class="d" font-size="11.1">= Co-channel warning</text>
<rect x="557.7" y="617.3" width="6.8" height="11.4" fill="#f78a8a"/><text x="561.1" y="627.2" class="w">a</text>
<text x="571.6" y="628" class="d" font-size="11.1">= Adjacent channel warning</text>
</g>
</svg></body></html>
